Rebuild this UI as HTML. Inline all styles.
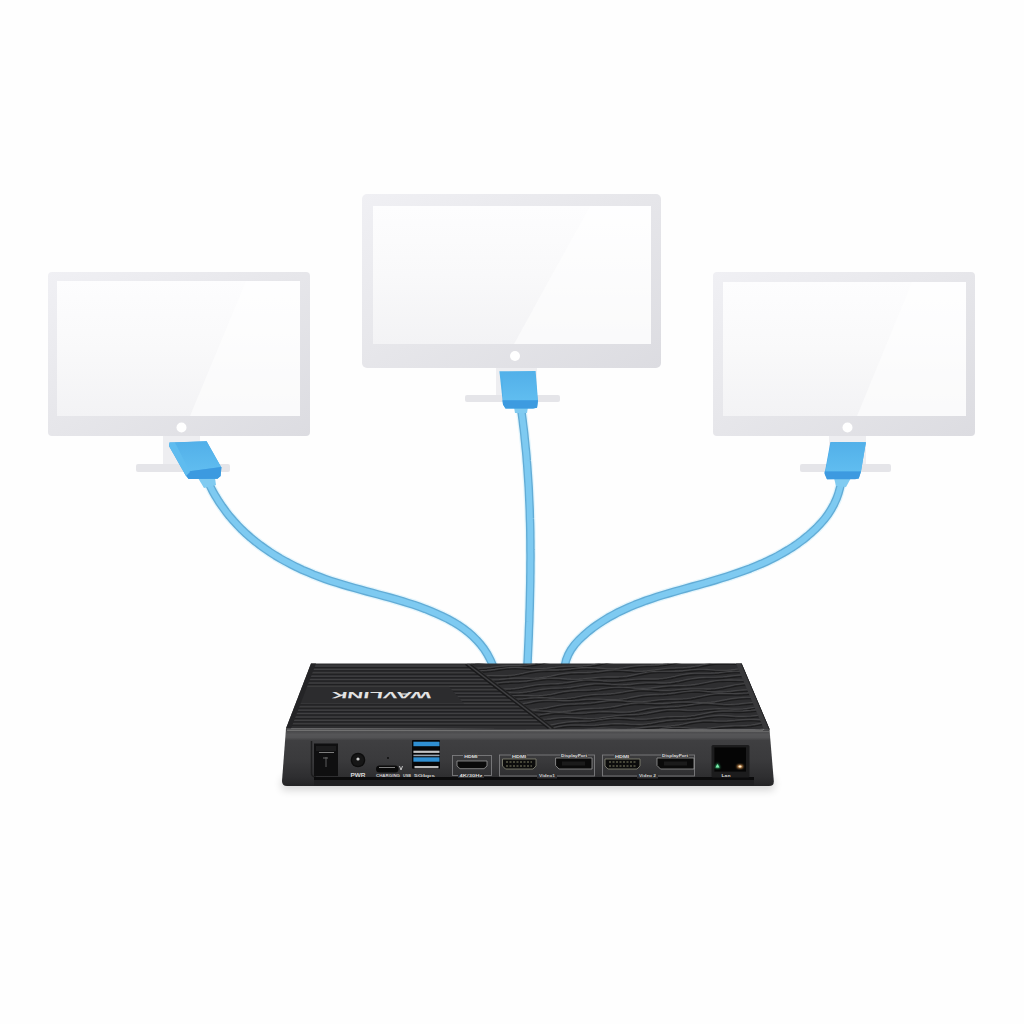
<!DOCTYPE html>
<html><head><meta charset="utf-8">
<style>
html,body{margin:0;padding:0;background:#fefefe;width:1024px;height:1024px;overflow:hidden;font-family:"Liberation Sans",sans-serif;}
svg{display:block;}
</style></head>
<body>
<svg width="1024" height="1024" viewBox="0 0 1024 1024">
<defs>
  <linearGradient id="scr" x1="0" y1="0" x2="0" y2="1">
    <stop offset="0" stop-color="#fdfdfe"/>
    <stop offset="0.5" stop-color="#f9f9fa"/>
    <stop offset="1" stop-color="#f3f3f5"/>
  </linearGradient>
  <linearGradient id="frm" x1="0" y1="0" x2="1" y2="1">
    <stop offset="0" stop-color="#f0f0f4"/>
    <stop offset="0.5" stop-color="#e6e6ea"/>
    <stop offset="1" stop-color="#dcdce1"/>
  </linearGradient>
  <linearGradient id="connBody" x1="0" y1="0" x2="0" y2="1">
    <stop offset="0" stop-color="#52b0e9"/>
    <stop offset="1" stop-color="#60bdf0"/>
  </linearGradient>
  <linearGradient id="faceGrad" x1="0" y1="728" x2="0" y2="786" gradientUnits="userSpaceOnUse">
    <stop offset="0" stop-color="#3a3a3c"/>
    <stop offset="0.052" stop-color="#48484a"/>
    <stop offset="0.112" stop-color="#555557"/>
    <stop offset="0.164" stop-color="#525254"/>
    <stop offset="0.216" stop-color="#3f3f41"/>
    <stop offset="0.55" stop-color="#3a3a3c"/>
    <stop offset="0.845" stop-color="#2e2e30"/>
    <stop offset="1" stop-color="#232325"/>
  </linearGradient>
  <filter id="blur4" x="-20%" y="-200%" width="140%" height="500%"><feGaussianBlur stdDeviation="4"/></filter>
  <radialGradient id="shadow" cx="0.5" cy="0.5" r="0.5">
    <stop offset="0" stop-color="#000" stop-opacity="0.10"/>
    <stop offset="1" stop-color="#000" stop-opacity="0"/>
  </radialGradient>
  <clipPath id="clipLeftTop"><polygon points="311,663.5 467,663.5 550,728.5 286,728.5"/></clipPath>
  <clipPath id="clipRightTop"><polygon points="467,663.5 741.5,663.5 769.5,729.5 550,728.5"/></clipPath>
  <filter id="glow" x="-30%" y="-30%" width="160%" height="160%">
    <feGaussianBlur stdDeviation="1.2"/>
  </filter>
</defs>

<!-- LEFT MONITOR -->
<g id="monL">
  <rect x="163" y="434" width="37" height="32" fill="#eeeef1"/>
  <rect x="136" y="464" width="94" height="8" rx="2" fill="#e5e5e9"/>
  <rect x="48" y="272" width="262" height="164" rx="4" fill="url(#frm)"/>
  <rect x="57" y="281" width="243" height="135" fill="url(#scr)"/>
  <polygon points="246,281 300,281 300,416 190,416" fill="#ffffff" opacity="0.55"/>
  <circle cx="181.5" cy="427.5" r="5" fill="#ffffff"/>
</g>
<!-- CENTER MONITOR -->
<g id="monC">
  <rect x="496" y="366" width="41" height="31" fill="#eeeef1"/>
  <rect x="465" y="395" width="95" height="7" rx="2" fill="#e5e5e9"/>
  <rect x="362" y="194" width="299" height="174" rx="5" fill="url(#frm)"/>
  <rect x="373" y="206" width="278" height="138" fill="url(#scr)"/>
  <polygon points="590,206 651,206 651,344 514,344" fill="#ffffff" opacity="0.55"/>
  <circle cx="515" cy="356" r="5" fill="#ffffff"/>
</g>
<!-- RIGHT MONITOR -->
<g id="monR">
  <rect x="829" y="434" width="37" height="32" fill="#eeeef1"/>
  <rect x="800" y="464" width="91" height="8" rx="2" fill="#e5e5e9"/>
  <rect x="713" y="272" width="262" height="164" rx="4" fill="url(#frm)"/>
  <rect x="723" y="282" width="243" height="134" fill="url(#scr)"/>
  <polygon points="912,282 966,282 966,416 857,416" fill="#ffffff" opacity="0.55"/>
  <circle cx="847.5" cy="427.5" r="5" fill="#ffffff"/>
</g>

<!-- CABLES -->
<g fill="none" stroke-linecap="butt" stroke-linejoin="round">
<path d="M204.6 473.4 L207.0 479.4 L209.7 485.2 L212.5 490.8 L215.6 496.3 L218.8 501.5 L222.3 506.6 L225.9 511.6 L229.6 516.3 L233.6 520.9 L237.7 525.4 L241.9 529.7 L246.3 533.8 L250.8 537.8 L255.5 541.6 L260.3 545.3 L265.2 548.8 L270.2 552.2 L275.3 555.5 L280.5 558.6 L285.9 561.6 L291.3 564.4 L296.7 567.2 L302.3 569.8 L307.9 572.2 L313.6 574.6 L319.3 576.8 L325.1 578.9 L330.9 580.9 L336.8 582.8 L342.7 584.6 L348.6 586.3 L354.5 588.0 L360.5 589.6 L366.4 591.3 L372.4 592.9 L378.3 594.5 L384.3 596.1 L390.2 597.7 L396.1 599.4 L402.0 601.1 L407.8 603.0 L413.7 604.8 L419.4 606.8 L425.2 608.9 L430.9 611.2 L436.5 613.6 L442.0 616.1 L447.5 618.8 L452.8 621.7 L458.0 624.8 L463.0 628.2 L467.7 631.8 L472.3 635.7 L476.5 639.9 L480.5 644.4 L484.2 649.2 L487.5 654.4 L490.4 659.9 L493.0 665.9" stroke="#e4f5fc" stroke-width="11"/>
<path d="M204.6 473.4 L207.0 479.4 L209.7 485.2 L212.5 490.8 L215.6 496.3 L218.8 501.5 L222.3 506.6 L225.9 511.6 L229.6 516.3 L233.6 520.9 L237.7 525.4 L241.9 529.7 L246.3 533.8 L250.8 537.8 L255.5 541.6 L260.3 545.3 L265.2 548.8 L270.2 552.2 L275.3 555.5 L280.5 558.6 L285.9 561.6 L291.3 564.4 L296.7 567.2 L302.3 569.8 L307.9 572.2 L313.6 574.6 L319.3 576.8 L325.1 578.9 L330.9 580.9 L336.8 582.8 L342.7 584.6 L348.6 586.3 L354.5 588.0 L360.5 589.6 L366.4 591.3 L372.4 592.9 L378.3 594.5 L384.3 596.1 L390.2 597.7 L396.1 599.4 L402.0 601.1 L407.8 603.0 L413.7 604.8 L419.4 606.8 L425.2 608.9 L430.9 611.2 L436.5 613.6 L442.0 616.1 L447.5 618.8 L452.8 621.7 L458.0 624.8 L463.0 628.2 L467.7 631.8 L472.3 635.7 L476.5 639.9 L480.5 644.4 L484.2 649.2 L487.5 654.4 L490.4 659.9 L493.0 665.9" stroke="#62acd6" stroke-width="8.5"/>
<path d="M204.6 473.4 L207.0 479.4 L209.7 485.2 L212.5 490.8 L215.6 496.3 L218.8 501.5 L222.3 506.6 L225.9 511.6 L229.6 516.3 L233.6 520.9 L237.7 525.4 L241.9 529.7 L246.3 533.8 L250.8 537.8 L255.5 541.6 L260.3 545.3 L265.2 548.8 L270.2 552.2 L275.3 555.5 L280.5 558.6 L285.9 561.6 L291.3 564.4 L296.7 567.2 L302.3 569.8 L307.9 572.2 L313.6 574.6 L319.3 576.8 L325.1 578.9 L330.9 580.9 L336.8 582.8 L342.7 584.6 L348.6 586.3 L354.5 588.0 L360.5 589.6 L366.4 591.3 L372.4 592.9 L378.3 594.5 L384.3 596.1 L390.2 597.7 L396.1 599.4 L402.0 601.1 L407.8 603.0 L413.7 604.8 L419.4 606.8 L425.2 608.9 L430.9 611.2 L436.5 613.6 L442.0 616.1 L447.5 618.8 L452.8 621.7 L458.0 624.8 L463.0 628.2 L467.7 631.8 L472.3 635.7 L476.5 639.9 L480.5 644.4 L484.2 649.2 L487.5 654.4 L490.4 659.9 L493.0 665.9" stroke="#7ecaf1" stroke-width="5.8"/>
<path d="M520.2 403.0 L520.9 407.5 L521.5 411.9 L522.1 416.3 L522.7 420.8 L523.2 425.2 L523.8 429.7 L524.3 434.1 L524.7 438.5 L525.2 443.0 L525.6 447.4 L526.1 451.9 L526.5 456.3 L526.8 460.8 L527.2 465.2 L527.5 469.7 L527.8 474.1 L528.1 478.6 L528.4 483.0 L528.7 487.5 L528.9 491.9 L529.1 496.4 L529.3 500.9 L529.5 505.3 L529.7 509.8 L529.8 514.2 L529.9 518.7 L530.1 523.1 L530.2 527.6 L530.3 532.1 L530.3 536.5 L530.4 541.0 L530.4 545.5 L530.4 549.9 L530.5 554.4 L530.5 558.8 L530.4 563.3 L530.4 567.8 L530.4 572.2 L530.3 576.7 L530.3 581.2 L530.2 585.6 L530.1 590.1 L530.0 594.6 L529.9 599.0 L529.8 603.5 L529.7 608.0 L529.5 612.4 L529.4 616.9 L529.3 621.4 L529.1 625.8 L528.9 630.3 L528.8 634.8 L528.6 639.2 L528.4 643.7 L528.2 648.1 L528.0 652.6 L527.8 657.1 L527.6 661.5 L527.3 666.0" stroke="#e4f5fc" stroke-width="11"/>
<path d="M520.2 403.0 L520.9 407.5 L521.5 411.9 L522.1 416.3 L522.7 420.8 L523.2 425.2 L523.8 429.7 L524.3 434.1 L524.7 438.5 L525.2 443.0 L525.6 447.4 L526.1 451.9 L526.5 456.3 L526.8 460.8 L527.2 465.2 L527.5 469.7 L527.8 474.1 L528.1 478.6 L528.4 483.0 L528.7 487.5 L528.9 491.9 L529.1 496.4 L529.3 500.9 L529.5 505.3 L529.7 509.8 L529.8 514.2 L529.9 518.7 L530.1 523.1 L530.2 527.6 L530.3 532.1 L530.3 536.5 L530.4 541.0 L530.4 545.5 L530.4 549.9 L530.5 554.4 L530.5 558.8 L530.4 563.3 L530.4 567.8 L530.4 572.2 L530.3 576.7 L530.3 581.2 L530.2 585.6 L530.1 590.1 L530.0 594.6 L529.9 599.0 L529.8 603.5 L529.7 608.0 L529.5 612.4 L529.4 616.9 L529.3 621.4 L529.1 625.8 L528.9 630.3 L528.8 634.8 L528.6 639.2 L528.4 643.7 L528.2 648.1 L528.0 652.6 L527.8 657.1 L527.6 661.5 L527.3 666.0" stroke="#62acd6" stroke-width="8.5"/>
<path d="M520.2 403.0 L520.9 407.5 L521.5 411.9 L522.1 416.3 L522.7 420.8 L523.2 425.2 L523.8 429.7 L524.3 434.1 L524.7 438.5 L525.2 443.0 L525.6 447.4 L526.1 451.9 L526.5 456.3 L526.8 460.8 L527.2 465.2 L527.5 469.7 L527.8 474.1 L528.1 478.6 L528.4 483.0 L528.7 487.5 L528.9 491.9 L529.1 496.4 L529.3 500.9 L529.5 505.3 L529.7 509.8 L529.8 514.2 L529.9 518.7 L530.1 523.1 L530.2 527.6 L530.3 532.1 L530.3 536.5 L530.4 541.0 L530.4 545.5 L530.4 549.9 L530.5 554.4 L530.5 558.8 L530.4 563.3 L530.4 567.8 L530.4 572.2 L530.3 576.7 L530.3 581.2 L530.2 585.6 L530.1 590.1 L530.0 594.6 L529.9 599.0 L529.8 603.5 L529.7 608.0 L529.5 612.4 L529.4 616.9 L529.3 621.4 L529.1 625.8 L528.9 630.3 L528.8 634.8 L528.6 639.2 L528.4 643.7 L528.2 648.1 L528.0 652.6 L527.8 657.1 L527.6 661.5 L527.3 666.0" stroke="#7ecaf1" stroke-width="5.8"/>
<path d="M842.7 474.8 L841.6 480.9 L840.2 486.9 L838.6 492.8 L836.6 498.6 L834.1 504.1 L831.2 509.4 L828.0 514.4 L824.4 519.2 L820.4 523.8 L816.3 528.1 L811.9 532.2 L807.4 536.1 L802.8 539.9 L798.0 543.4 L793.1 546.8 L788.0 550.0 L782.9 553.0 L777.7 555.9 L772.3 558.7 L766.9 561.3 L761.4 563.8 L755.8 566.1 L750.2 568.4 L744.5 570.5 L738.8 572.6 L733.0 574.6 L727.2 576.5 L721.3 578.3 L715.5 580.1 L709.6 581.8 L703.8 583.5 L697.9 585.1 L692.0 586.7 L686.2 588.3 L680.3 590.0 L674.5 591.6 L668.7 593.3 L663.0 595.0 L657.2 596.8 L651.6 598.7 L645.9 600.6 L640.3 602.7 L634.8 604.8 L629.3 607.1 L623.9 609.6 L618.5 612.1 L613.3 614.9 L608.0 617.8 L602.9 621.0 L597.9 624.3 L592.9 627.8 L588.1 631.6 L583.4 635.7 L578.9 640.0 L574.8 644.5 L571.2 649.4 L568.3 654.6 L566.1 660.1 L564.8 666.0" stroke="#e4f5fc" stroke-width="11"/>
<path d="M842.7 474.8 L841.6 480.9 L840.2 486.9 L838.6 492.8 L836.6 498.6 L834.1 504.1 L831.2 509.4 L828.0 514.4 L824.4 519.2 L820.4 523.8 L816.3 528.1 L811.9 532.2 L807.4 536.1 L802.8 539.9 L798.0 543.4 L793.1 546.8 L788.0 550.0 L782.9 553.0 L777.7 555.9 L772.3 558.7 L766.9 561.3 L761.4 563.8 L755.8 566.1 L750.2 568.4 L744.5 570.5 L738.8 572.6 L733.0 574.6 L727.2 576.5 L721.3 578.3 L715.5 580.1 L709.6 581.8 L703.8 583.5 L697.9 585.1 L692.0 586.7 L686.2 588.3 L680.3 590.0 L674.5 591.6 L668.7 593.3 L663.0 595.0 L657.2 596.8 L651.6 598.7 L645.9 600.6 L640.3 602.7 L634.8 604.8 L629.3 607.1 L623.9 609.6 L618.5 612.1 L613.3 614.9 L608.0 617.8 L602.9 621.0 L597.9 624.3 L592.9 627.8 L588.1 631.6 L583.4 635.7 L578.9 640.0 L574.8 644.5 L571.2 649.4 L568.3 654.6 L566.1 660.1 L564.8 666.0" stroke="#62acd6" stroke-width="8.5"/>
<path d="M842.7 474.8 L841.6 480.9 L840.2 486.9 L838.6 492.8 L836.6 498.6 L834.1 504.1 L831.2 509.4 L828.0 514.4 L824.4 519.2 L820.4 523.8 L816.3 528.1 L811.9 532.2 L807.4 536.1 L802.8 539.9 L798.0 543.4 L793.1 546.8 L788.0 550.0 L782.9 553.0 L777.7 555.9 L772.3 558.7 L766.9 561.3 L761.4 563.8 L755.8 566.1 L750.2 568.4 L744.5 570.5 L738.8 572.6 L733.0 574.6 L727.2 576.5 L721.3 578.3 L715.5 580.1 L709.6 581.8 L703.8 583.5 L697.9 585.1 L692.0 586.7 L686.2 588.3 L680.3 590.0 L674.5 591.6 L668.7 593.3 L663.0 595.0 L657.2 596.8 L651.6 598.7 L645.9 600.6 L640.3 602.7 L634.8 604.8 L629.3 607.1 L623.9 609.6 L618.5 612.1 L613.3 614.9 L608.0 617.8 L602.9 621.0 L597.9 624.3 L592.9 627.8 L588.1 631.6 L583.4 635.7 L578.9 640.0 L574.8 644.5 L571.2 649.4 L568.3 654.6 L566.1 660.1 L564.8 666.0" stroke="#7ecaf1" stroke-width="5.8"/>

</g>

<!-- STRAIN RELIEF -->
<g>
  <polygon points="198,478 215,478 216,485 204,488" fill="#80cbf1"/>
  <polygon points="514,407 528,407 527,413 515,413" fill="#80cbf1"/>
  <polygon points="834,478 851,478 846,487 836,486" fill="#80cbf1"/>
</g>
<!-- CONNECTORS -->
<g id="connL">
  <polygon points="169.5,442.5 206.6,441.3 221.4,467.5 220.6,476 217.5,478.8 188.6,479 186,476 169,446" fill="#48aae8"/>
  <polygon points="175,442.5 206.6,441.3 221,467 184,472" fill="url(#connBody)"/>
  <polygon points="184,472 221.4,467 220.6,476 217.5,478.8 188.6,479" fill="#3c9ae0"/>
  <polygon points="169.5,442.5 175,442.5 190,472 186,476 169,446" fill="#5fbcef"/>
</g>
<g id="connC">
  <polygon points="499.4,371.3 535.6,371 538,401 537,407.8 533,408.5 505.5,408.5 503,404.4" fill="#52b2ea"/>
  <polygon points="503,372 535,372 537.5,400.5 503,400.5" fill="url(#connBody)"/>
  <polygon points="502.5,400.3 538,400.3 537,407.8 533,408.5 505.5,408.5 503,404.4" fill="#3d9be0"/>
</g>
<g id="connR">
  <polygon points="830.4,441.9 865.9,442.3 860.8,472.3 858.7,478.5 827,479.2 824.6,473 826,466" fill="#4aaae8"/>
  <polygon points="831,442 865.9,442.3 861,471.6 825.5,471.6" fill="url(#connBody)"/>
  <polygon points="824.6,471.6 861,471.6 858.7,478.5 855,479.2 827,479.2 824.6,474" fill="#3d9ae0"/>
</g>

<!-- BOX -->
<g id="box">
  <rect x="282" y="778" width="492" height="12" fill="#000" opacity="0.16" filter="url(#blur4)"/>
  <!-- top surface -->
  <polygon points="311,663.5 741.5,663.5 769.5,729.5 286,728.5" fill="#2e2e30"/>
  <g clip-path="url(#clipLeftTop)">
  <g clip-path="url(#clipRightTop)"></g>
  </g>
  <g>
<g clip-path="url(#clipLeftTop)"><line x1="312.8" y1="666.0" x2="469.6" y2="666.0" stroke="#434345" stroke-width="1"/>
<line x1="312.8" y1="667.5" x2="469.6" y2="667.5" stroke="#1f1f21" stroke-width="1"/>
<line x1="311.5" y1="669.4" x2="474.0" y2="669.4" stroke="#434345" stroke-width="1"/>
<line x1="311.5" y1="670.9" x2="474.0" y2="670.9" stroke="#1f1f21" stroke-width="1"/>
<line x1="310.2" y1="672.8" x2="478.4" y2="672.8" stroke="#434345" stroke-width="1"/>
<line x1="310.2" y1="674.3" x2="478.4" y2="674.3" stroke="#1f1f21" stroke-width="1"/>
<line x1="308.9" y1="676.2" x2="482.8" y2="676.2" stroke="#434345" stroke-width="1"/>
<line x1="308.9" y1="677.7" x2="482.8" y2="677.7" stroke="#1f1f21" stroke-width="1"/>
<line x1="307.6" y1="679.6" x2="487.2" y2="679.6" stroke="#434345" stroke-width="1"/>
<line x1="307.6" y1="681.1" x2="487.2" y2="681.1" stroke="#1f1f21" stroke-width="1"/>
<line x1="306.3" y1="683.0" x2="491.6" y2="683.0" stroke="#434345" stroke-width="1"/>
<line x1="306.3" y1="684.5" x2="491.6" y2="684.5" stroke="#1f1f21" stroke-width="1"/>
<line x1="305.0" y1="686.4" x2="496.0" y2="686.4" stroke="#434345" stroke-width="1"/>
<line x1="305.0" y1="687.9" x2="496.0" y2="687.9" stroke="#1f1f21" stroke-width="1"/>
<line x1="303.7" y1="689.8" x2="500.5" y2="689.8" stroke="#434345" stroke-width="1"/>
<line x1="303.7" y1="691.3" x2="500.5" y2="691.3" stroke="#1f1f21" stroke-width="1"/>
<line x1="302.4" y1="693.2" x2="504.9" y2="693.2" stroke="#434345" stroke-width="1"/>
<line x1="302.4" y1="694.7" x2="504.9" y2="694.7" stroke="#1f1f21" stroke-width="1"/>
<line x1="301.1" y1="696.6" x2="509.3" y2="696.6" stroke="#434345" stroke-width="1"/>
<line x1="301.1" y1="698.1" x2="509.3" y2="698.1" stroke="#1f1f21" stroke-width="1"/>
<line x1="299.8" y1="700.0" x2="513.7" y2="700.0" stroke="#434345" stroke-width="1"/>
<line x1="299.8" y1="701.5" x2="513.7" y2="701.5" stroke="#1f1f21" stroke-width="1"/>
<line x1="298.5" y1="703.4" x2="518.1" y2="703.4" stroke="#434345" stroke-width="1"/>
<line x1="298.5" y1="704.9" x2="518.1" y2="704.9" stroke="#1f1f21" stroke-width="1"/>
<line x1="297.2" y1="706.8" x2="522.5" y2="706.8" stroke="#434345" stroke-width="1"/>
<line x1="297.2" y1="708.3" x2="522.5" y2="708.3" stroke="#1f1f21" stroke-width="1"/>
<line x1="295.8" y1="710.2" x2="526.9" y2="710.2" stroke="#434345" stroke-width="1"/>
<line x1="295.8" y1="711.7" x2="526.9" y2="711.7" stroke="#1f1f21" stroke-width="1"/>
<line x1="294.5" y1="713.6" x2="531.3" y2="713.6" stroke="#434345" stroke-width="1"/>
<line x1="294.5" y1="715.1" x2="531.3" y2="715.1" stroke="#1f1f21" stroke-width="1"/>
<line x1="293.2" y1="717.0" x2="535.7" y2="717.0" stroke="#434345" stroke-width="1"/>
<line x1="293.2" y1="718.5" x2="535.7" y2="718.5" stroke="#1f1f21" stroke-width="1"/>
<line x1="291.9" y1="720.4" x2="540.1" y2="720.4" stroke="#434345" stroke-width="1"/>
<line x1="291.9" y1="721.9" x2="540.1" y2="721.9" stroke="#1f1f21" stroke-width="1"/>
<line x1="290.6" y1="723.8" x2="544.6" y2="723.8" stroke="#434345" stroke-width="1"/>
<line x1="290.6" y1="725.3" x2="544.6" y2="725.3" stroke="#1f1f21" stroke-width="1"/></g><g clip-path="url(#clipRightTop)"><path d="M455.0 663.2 L459.0 662.9 L463.0 662.8 L467.0 662.7 L471.0 662.5 L475.0 662.2 L479.0 661.8 L483.0 661.3 L487.0 660.8 L491.0 660.2 L495.0 659.8 L499.0 659.5 L503.0 659.4 L507.0 659.5 L511.0 659.7 L515.0 660.0 L519.0 660.3 L523.0 660.5 L527.0 660.6 L531.0 660.4 L535.0 660.1 L539.0 659.6 L543.0 659.1 L547.0 658.7 L551.0 658.4 L555.0 658.1 L559.0 658.0 L563.0 658.0 L567.0 657.9 L571.0 657.7 L575.0 657.4 L579.0 656.9 L583.0 656.2 L587.0 655.4 L591.0 654.6 L595.0 653.8 L599.0 653.1 L603.0 652.7 L607.0 652.4 L611.0 652.3 L615.0 652.4 L619.0 652.4 L623.0 652.5 L627.0 652.4 L631.0 652.2 L635.0 651.8 L639.0 651.4 L643.0 651.1 L647.0 650.8 L651.0 650.6 L655.0 650.7 L659.0 650.9 L663.0 651.1 L667.0 651.4 L671.0 651.6 L675.0 651.6 L679.0 651.4 L683.0 651.0 L687.0 650.4 L691.0 649.7 L695.0 649.0 L699.0 648.4 L703.0 647.9 L707.0 647.6 L711.0 647.3 L715.0 647.2 L719.0 647.0 L723.0 646.7 L727.0 646.4 L731.0 645.8 L735.0 645.2 L739.0 644.5 L743.0 643.8 L747.0 643.2 L751.0 642.8 L755.0 642.6 L759.0 642.6 L763.0 642.8 L767.0 643.1 L771.0 643.3 L775.0 643.5 L779.0 643.5" stroke="#444446" stroke-width="1.1" fill="none"/>
<path d="M455.0 664.8 L459.0 664.5 L463.0 664.4 L467.0 664.3 L471.0 664.1 L475.0 663.8 L479.0 663.4 L483.0 662.9 L487.0 662.4 L491.0 661.8 L495.0 661.4 L499.0 661.1 L503.0 661.0 L507.0 661.1 L511.0 661.3 L515.0 661.6 L519.0 661.9 L523.0 662.1 L527.0 662.2 L531.0 662.0 L535.0 661.7 L539.0 661.2 L543.0 660.7 L547.0 660.3 L551.0 660.0 L555.0 659.7 L559.0 659.6 L563.0 659.6 L567.0 659.5 L571.0 659.3 L575.0 659.0 L579.0 658.5 L583.0 657.8 L587.0 657.0 L591.0 656.2 L595.0 655.4 L599.0 654.7 L603.0 654.3 L607.0 654.0 L611.0 653.9 L615.0 654.0 L619.0 654.0 L623.0 654.1 L627.0 654.0 L631.0 653.8 L635.0 653.4 L639.0 653.0 L643.0 652.7 L647.0 652.4 L651.0 652.2 L655.0 652.3 L659.0 652.5 L663.0 652.7 L667.0 653.0 L671.0 653.2 L675.0 653.2 L679.0 653.0 L683.0 652.6 L687.0 652.0 L691.0 651.3 L695.0 650.6 L699.0 650.0 L703.0 649.5 L707.0 649.2 L711.0 648.9 L715.0 648.8 L719.0 648.6 L723.0 648.3 L727.0 648.0 L731.0 647.4 L735.0 646.8 L739.0 646.1 L743.0 645.4 L747.0 644.8 L751.0 644.4 L755.0 644.2 L759.0 644.2 L763.0 644.4 L767.0 644.7 L771.0 644.9 L775.0 645.1 L779.0 645.1" stroke="#1a1a1b" stroke-width="1.1" fill="none"/>
<path d="M455.0 666.9 L459.0 666.9 L463.0 667.2 L467.0 667.5 L471.0 667.8 L475.0 668.0 L479.0 668.1 L483.0 667.9 L487.0 667.6 L491.0 667.2 L495.0 666.7 L499.0 666.2 L503.0 665.9 L507.0 665.6 L511.0 665.5 L515.0 665.5 L519.0 665.4 L523.0 665.2 L527.0 664.9 L531.0 664.4 L535.0 663.8 L539.0 663.0 L543.0 662.1 L547.0 661.3 L551.0 660.7 L555.0 660.2 L559.0 659.9 L563.0 659.8 L567.0 659.8 L571.0 659.9 L575.0 660.0 L579.0 659.9 L583.0 659.7 L587.0 659.4 L591.0 659.0 L595.0 658.6 L599.0 658.3 L603.0 658.2 L607.0 658.2 L611.0 658.3 L615.0 658.6 L619.0 658.8 L623.0 659.0 L627.0 659.1 L631.0 658.9 L635.0 658.6 L639.0 658.0 L643.0 657.3 L647.0 656.6 L651.0 656.0 L655.0 655.4 L659.0 655.1 L663.0 654.8 L667.0 654.6 L671.0 654.5 L675.0 654.2 L679.0 653.9 L683.0 653.4 L687.0 652.7 L691.0 652.0 L695.0 651.3 L699.0 650.7 L703.0 650.3 L707.0 650.1 L711.0 650.1 L715.0 650.3 L719.0 650.5 L723.0 650.8 L727.0 650.9 L731.0 651.0 L735.0 650.8 L739.0 650.6 L743.0 650.2 L747.0 649.8 L751.0 649.5 L755.0 649.3 L759.0 649.2 L763.0 649.3 L767.0 649.3 L771.0 649.4 L775.0 649.3 L779.0 649.1" stroke="#444446" stroke-width="1.1" fill="none"/>
<path d="M455.0 668.5 L459.0 668.5 L463.0 668.8 L467.0 669.1 L471.0 669.4 L475.0 669.6 L479.0 669.7 L483.0 669.5 L487.0 669.2 L491.0 668.8 L495.0 668.3 L499.0 667.8 L503.0 667.5 L507.0 667.2 L511.0 667.1 L515.0 667.1 L519.0 667.0 L523.0 666.8 L527.0 666.5 L531.0 666.0 L535.0 665.4 L539.0 664.6 L543.0 663.7 L547.0 662.9 L551.0 662.3 L555.0 661.8 L559.0 661.5 L563.0 661.4 L567.0 661.4 L571.0 661.5 L575.0 661.6 L579.0 661.5 L583.0 661.3 L587.0 661.0 L591.0 660.6 L595.0 660.2 L599.0 659.9 L603.0 659.8 L607.0 659.8 L611.0 659.9 L615.0 660.2 L619.0 660.4 L623.0 660.6 L627.0 660.7 L631.0 660.5 L635.0 660.2 L639.0 659.6 L643.0 658.9 L647.0 658.2 L651.0 657.6 L655.0 657.0 L659.0 656.7 L663.0 656.4 L667.0 656.2 L671.0 656.1 L675.0 655.8 L679.0 655.5 L683.0 655.0 L687.0 654.3 L691.0 653.6 L695.0 652.9 L699.0 652.3 L703.0 651.9 L707.0 651.7 L711.0 651.7 L715.0 651.9 L719.0 652.1 L723.0 652.4 L727.0 652.5 L731.0 652.6 L735.0 652.4 L739.0 652.2 L743.0 651.8 L747.0 651.4 L751.0 651.1 L755.0 650.9 L759.0 650.8 L763.0 650.9 L767.0 650.9 L771.0 651.0 L775.0 650.9 L779.0 650.7" stroke="#1a1a1b" stroke-width="1.1" fill="none"/>
<path d="M455.0 673.0 L459.0 672.3 L463.0 671.7 L467.0 671.3 L471.0 671.0 L475.0 670.8 L479.0 670.7 L483.0 670.5 L487.0 670.3 L491.0 669.9 L495.0 669.4 L499.0 668.8 L503.0 668.2 L507.0 667.7 L511.0 667.4 L515.0 667.3 L519.0 667.4 L523.0 667.7 L527.0 668.0 L531.0 668.3 L535.0 668.5 L539.0 668.5 L543.0 668.4 L547.0 668.1 L551.0 667.6 L555.0 667.2 L559.0 666.7 L563.0 666.4 L567.0 666.2 L571.0 666.1 L575.0 666.0 L579.0 666.0 L583.0 665.8 L587.0 665.5 L591.0 665.0 L595.0 664.3 L599.0 663.5 L603.0 662.6 L607.0 661.8 L611.0 661.2 L615.0 660.7 L619.0 660.4 L623.0 660.4 L627.0 660.4 L631.0 660.4 L635.0 660.5 L639.0 660.4 L643.0 660.1 L647.0 659.8 L651.0 659.4 L655.0 659.0 L659.0 658.7 L663.0 658.6 L667.0 658.6 L671.0 658.8 L675.0 659.1 L679.0 659.4 L683.0 659.5 L687.0 659.6 L691.0 659.4 L695.0 659.0 L699.0 658.5 L703.0 657.8 L707.0 657.1 L711.0 656.5 L715.0 656.0 L719.0 655.6 L723.0 655.4 L727.0 655.2 L731.0 655.1 L735.0 654.8 L739.0 654.4 L743.0 653.9 L747.0 653.2 L751.0 652.5 L755.0 651.8 L759.0 651.2 L763.0 650.8 L767.0 650.6 L771.0 650.6 L775.0 650.8 L779.0 651.0" stroke="#444446" stroke-width="1.1" fill="none"/>
<path d="M455.0 674.6 L459.0 673.9 L463.0 673.3 L467.0 672.9 L471.0 672.6 L475.0 672.4 L479.0 672.3 L483.0 672.1 L487.0 671.9 L491.0 671.5 L495.0 671.0 L499.0 670.4 L503.0 669.8 L507.0 669.3 L511.0 669.0 L515.0 668.9 L519.0 669.0 L523.0 669.3 L527.0 669.6 L531.0 669.9 L535.0 670.1 L539.0 670.1 L543.0 670.0 L547.0 669.7 L551.0 669.2 L555.0 668.8 L559.0 668.3 L563.0 668.0 L567.0 667.8 L571.0 667.7 L575.0 667.6 L579.0 667.6 L583.0 667.4 L587.0 667.1 L591.0 666.6 L595.0 665.9 L599.0 665.1 L603.0 664.2 L607.0 663.4 L611.0 662.8 L615.0 662.3 L619.0 662.0 L623.0 662.0 L627.0 662.0 L631.0 662.0 L635.0 662.1 L639.0 662.0 L643.0 661.7 L647.0 661.4 L651.0 661.0 L655.0 660.6 L659.0 660.3 L663.0 660.2 L667.0 660.2 L671.0 660.4 L675.0 660.7 L679.0 661.0 L683.0 661.1 L687.0 661.2 L691.0 661.0 L695.0 660.6 L699.0 660.1 L703.0 659.4 L707.0 658.7 L711.0 658.1 L715.0 657.6 L719.0 657.2 L723.0 657.0 L727.0 656.8 L731.0 656.7 L735.0 656.4 L739.0 656.0 L743.0 655.5 L747.0 654.8 L751.0 654.1 L755.0 653.4 L759.0 652.8 L763.0 652.4 L767.0 652.2 L771.0 652.2 L775.0 652.4 L779.0 652.6" stroke="#1a1a1b" stroke-width="1.1" fill="none"/>
<path d="M455.0 677.3 L459.0 677.4 L463.0 677.4 L467.0 677.3 L471.0 677.0 L475.0 676.6 L479.0 676.2 L483.0 675.8 L487.0 675.6 L491.0 675.5 L495.0 675.6 L499.0 675.6 L503.0 675.6 L507.0 675.5 L511.0 675.2 L515.0 674.7 L519.0 674.0 L523.0 673.2 L527.0 672.3 L531.0 671.5 L535.0 670.9 L539.0 670.4 L543.0 670.1 L547.0 670.0 L551.0 669.9 L555.0 669.9 L559.0 669.8 L563.0 669.6 L567.0 669.2 L571.0 668.8 L575.0 668.3 L579.0 667.9 L583.0 667.6 L587.0 667.5 L591.0 667.6 L595.0 667.8 L599.0 668.1 L603.0 668.4 L607.0 668.7 L611.0 668.7 L615.0 668.6 L619.0 668.2 L623.0 667.7 L627.0 667.1 L631.0 666.5 L635.0 666.0 L639.0 665.6 L643.0 665.4 L647.0 665.2 L651.0 665.1 L655.0 664.9 L659.0 664.6 L663.0 664.2 L667.0 663.6 L671.0 662.8 L675.0 662.0 L679.0 661.3 L683.0 660.6 L687.0 660.2 L691.0 659.9 L695.0 659.9 L699.0 660.0 L703.0 660.2 L707.0 660.3 L711.0 660.4 L715.0 660.3 L719.0 660.1 L723.0 659.8 L727.0 659.5 L731.0 659.1 L735.0 658.9 L739.0 658.8 L743.0 658.9 L747.0 659.0 L751.0 659.2 L755.0 659.4 L759.0 659.4 L763.0 659.2 L767.0 658.7 L771.0 658.1 L775.0 657.4 L779.0 656.6" stroke="#444446" stroke-width="1.1" fill="none"/>
<path d="M455.0 678.9 L459.0 679.0 L463.0 679.0 L467.0 678.9 L471.0 678.6 L475.0 678.2 L479.0 677.8 L483.0 677.4 L487.0 677.2 L491.0 677.1 L495.0 677.2 L499.0 677.2 L503.0 677.2 L507.0 677.1 L511.0 676.8 L515.0 676.3 L519.0 675.6 L523.0 674.8 L527.0 673.9 L531.0 673.1 L535.0 672.5 L539.0 672.0 L543.0 671.7 L547.0 671.6 L551.0 671.5 L555.0 671.5 L559.0 671.4 L563.0 671.2 L567.0 670.8 L571.0 670.4 L575.0 669.9 L579.0 669.5 L583.0 669.2 L587.0 669.1 L591.0 669.2 L595.0 669.4 L599.0 669.7 L603.0 670.0 L607.0 670.3 L611.0 670.3 L615.0 670.2 L619.0 669.8 L623.0 669.3 L627.0 668.7 L631.0 668.1 L635.0 667.6 L639.0 667.2 L643.0 667.0 L647.0 666.8 L651.0 666.7 L655.0 666.5 L659.0 666.2 L663.0 665.8 L667.0 665.2 L671.0 664.4 L675.0 663.6 L679.0 662.9 L683.0 662.2 L687.0 661.8 L691.0 661.5 L695.0 661.5 L699.0 661.6 L703.0 661.8 L707.0 661.9 L711.0 662.0 L715.0 661.9 L719.0 661.7 L723.0 661.4 L727.0 661.1 L731.0 660.7 L735.0 660.5 L739.0 660.4 L743.0 660.5 L747.0 660.6 L751.0 660.8 L755.0 661.0 L759.0 661.0 L763.0 660.8 L767.0 660.3 L771.0 659.7 L775.0 659.0 L779.0 658.2" stroke="#1a1a1b" stroke-width="1.1" fill="none"/>
<path d="M455.0 680.1 L459.0 679.5 L463.0 679.1 L467.0 678.9 L471.0 678.9 L475.0 679.1 L479.0 679.4 L483.0 679.7 L487.0 679.8 L491.0 679.9 L495.0 679.7 L499.0 679.5 L503.0 679.1 L507.0 678.7 L511.0 678.4 L515.0 678.1 L519.0 678.1 L523.0 678.1 L527.0 678.1 L531.0 678.2 L535.0 678.1 L539.0 677.9 L543.0 677.4 L547.0 676.8 L551.0 676.0 L555.0 675.1 L559.0 674.3 L563.0 673.6 L567.0 673.1 L571.0 672.8 L575.0 672.6 L579.0 672.5 L583.0 672.5 L587.0 672.4 L591.0 672.2 L595.0 671.8 L599.0 671.4 L603.0 670.9 L607.0 670.4 L611.0 670.1 L615.0 669.9 L619.0 670.0 L623.0 670.2 L627.0 670.5 L631.0 670.8 L635.0 671.1 L639.0 671.2 L643.0 671.1 L647.0 670.8 L651.0 670.3 L655.0 669.8 L659.0 669.2 L663.0 668.7 L667.0 668.3 L671.0 668.0 L675.0 667.9 L679.0 667.7 L683.0 667.6 L687.0 667.3 L691.0 666.9 L695.0 666.3 L699.0 665.6 L703.0 664.8 L707.0 664.0 L711.0 663.3 L715.0 662.8 L719.0 662.5 L723.0 662.4 L727.0 662.5 L731.0 662.6 L735.0 662.8 L739.0 662.9 L743.0 662.8 L747.0 662.6 L751.0 662.3 L755.0 661.9 L759.0 661.6 L763.0 661.4 L767.0 661.3 L771.0 661.3 L775.0 661.5 L779.0 661.7" stroke="#444446" stroke-width="1.1" fill="none"/>
<path d="M455.0 681.7 L459.0 681.1 L463.0 680.7 L467.0 680.5 L471.0 680.5 L475.0 680.7 L479.0 681.0 L483.0 681.3 L487.0 681.4 L491.0 681.5 L495.0 681.3 L499.0 681.1 L503.0 680.7 L507.0 680.3 L511.0 680.0 L515.0 679.7 L519.0 679.7 L523.0 679.7 L527.0 679.7 L531.0 679.8 L535.0 679.7 L539.0 679.5 L543.0 679.0 L547.0 678.4 L551.0 677.6 L555.0 676.7 L559.0 675.9 L563.0 675.2 L567.0 674.7 L571.0 674.4 L575.0 674.2 L579.0 674.1 L583.0 674.1 L587.0 674.0 L591.0 673.8 L595.0 673.4 L599.0 673.0 L603.0 672.5 L607.0 672.0 L611.0 671.7 L615.0 671.5 L619.0 671.6 L623.0 671.8 L627.0 672.1 L631.0 672.4 L635.0 672.7 L639.0 672.8 L643.0 672.7 L647.0 672.4 L651.0 671.9 L655.0 671.4 L659.0 670.8 L663.0 670.3 L667.0 669.9 L671.0 669.6 L675.0 669.5 L679.0 669.3 L683.0 669.2 L687.0 668.9 L691.0 668.5 L695.0 667.9 L699.0 667.2 L703.0 666.4 L707.0 665.6 L711.0 664.9 L715.0 664.4 L719.0 664.1 L723.0 664.0 L727.0 664.1 L731.0 664.2 L735.0 664.4 L739.0 664.5 L743.0 664.4 L747.0 664.2 L751.0 663.9 L755.0 663.5 L759.0 663.2 L763.0 663.0 L767.0 662.9 L771.0 662.9 L775.0 663.1 L779.0 663.3" stroke="#1a1a1b" stroke-width="1.1" fill="none"/>
<path d="M455.0 686.4 L459.0 686.5 L463.0 686.7 L467.0 686.9 L471.0 686.9 L475.0 686.7 L479.0 686.3 L483.0 685.6 L487.0 684.9 L491.0 684.1 L495.0 683.4 L499.0 682.8 L503.0 682.3 L507.0 682.0 L511.0 681.8 L515.0 681.7 L519.0 681.5 L523.0 681.2 L527.0 680.9 L531.0 680.3 L535.0 679.7 L539.0 679.1 L543.0 678.6 L547.0 678.2 L551.0 678.0 L555.0 678.1 L559.0 678.3 L563.0 678.6 L567.0 678.9 L571.0 679.1 L575.0 679.2 L579.0 679.1 L583.0 678.8 L587.0 678.4 L591.0 678.0 L595.0 677.6 L599.0 677.2 L603.0 677.0 L607.0 676.9 L611.0 676.9 L615.0 676.9 L619.0 676.8 L623.0 676.5 L627.0 676.1 L631.0 675.4 L635.0 674.6 L639.0 673.8 L643.0 673.0 L647.0 672.3 L651.0 671.7 L655.0 671.4 L659.0 671.2 L663.0 671.2 L667.0 671.2 L671.0 671.2 L675.0 671.1 L679.0 670.9 L683.0 670.6 L687.0 670.2 L691.0 669.8 L695.0 669.5 L699.0 669.3 L703.0 669.3 L707.0 669.4 L711.0 669.7 L715.0 670.0 L719.0 670.2 L723.0 670.3 L727.0 670.2 L731.0 669.9 L735.0 669.4 L739.0 668.8 L743.0 668.1 L747.0 667.5 L751.0 667.0 L755.0 666.6 L759.0 666.4 L763.0 666.2 L767.0 666.1 L771.0 665.8 L775.0 665.5 L779.0 665.0" stroke="#444446" stroke-width="1.1" fill="none"/>
<path d="M455.0 688.0 L459.0 688.1 L463.0 688.3 L467.0 688.5 L471.0 688.5 L475.0 688.3 L479.0 687.9 L483.0 687.2 L487.0 686.5 L491.0 685.7 L495.0 685.0 L499.0 684.4 L503.0 683.9 L507.0 683.6 L511.0 683.4 L515.0 683.3 L519.0 683.1 L523.0 682.8 L527.0 682.5 L531.0 681.9 L535.0 681.3 L539.0 680.7 L543.0 680.2 L547.0 679.8 L551.0 679.6 L555.0 679.7 L559.0 679.9 L563.0 680.2 L567.0 680.5 L571.0 680.7 L575.0 680.8 L579.0 680.7 L583.0 680.4 L587.0 680.0 L591.0 679.6 L595.0 679.2 L599.0 678.8 L603.0 678.6 L607.0 678.5 L611.0 678.5 L615.0 678.5 L619.0 678.4 L623.0 678.1 L627.0 677.7 L631.0 677.0 L635.0 676.2 L639.0 675.4 L643.0 674.6 L647.0 673.9 L651.0 673.3 L655.0 673.0 L659.0 672.8 L663.0 672.8 L667.0 672.8 L671.0 672.8 L675.0 672.7 L679.0 672.5 L683.0 672.2 L687.0 671.8 L691.0 671.4 L695.0 671.1 L699.0 670.9 L703.0 670.9 L707.0 671.0 L711.0 671.3 L715.0 671.6 L719.0 671.8 L723.0 671.9 L727.0 671.8 L731.0 671.5 L735.0 671.0 L739.0 670.4 L743.0 669.7 L747.0 669.1 L751.0 668.6 L755.0 668.2 L759.0 668.0 L763.0 667.8 L767.0 667.7 L771.0 667.4 L775.0 667.1 L779.0 666.6" stroke="#1a1a1b" stroke-width="1.1" fill="none"/>
<path d="M455.0 689.7 L459.0 689.8 L463.0 689.7 L467.0 689.5 L471.0 689.2 L475.0 688.9 L479.0 688.5 L483.0 688.3 L487.0 688.2 L491.0 688.2 L495.0 688.4 L499.0 688.6 L503.0 688.8 L507.0 688.9 L511.0 688.8 L515.0 688.4 L519.0 687.9 L523.0 687.2 L527.0 686.4 L531.0 685.7 L535.0 685.0 L539.0 684.5 L543.0 684.2 L547.0 684.0 L551.0 683.8 L555.0 683.7 L559.0 683.4 L563.0 683.0 L567.0 682.5 L571.0 681.9 L575.0 681.3 L579.0 680.7 L583.0 680.2 L587.0 680.0 L591.0 679.9 L595.0 680.1 L599.0 680.3 L603.0 680.7 L607.0 680.9 L611.0 681.0 L615.0 681.0 L619.0 680.8 L623.0 680.4 L627.0 680.0 L631.0 679.6 L635.0 679.3 L639.0 679.0 L643.0 678.9 L647.0 678.9 L651.0 678.9 L655.0 678.9 L659.0 678.7 L663.0 678.3 L667.0 677.7 L671.0 677.0 L675.0 676.2 L679.0 675.3 L683.0 674.5 L687.0 673.9 L691.0 673.5 L695.0 673.3 L699.0 673.2 L703.0 673.2 L707.0 673.2 L711.0 673.1 L715.0 672.9 L719.0 672.6 L723.0 672.2 L727.0 671.8 L731.0 671.4 L735.0 671.2 L739.0 671.1 L743.0 671.2 L747.0 671.5 L751.0 671.8 L755.0 672.0 L759.0 672.2 L763.0 672.2 L767.0 672.0 L771.0 671.5 L775.0 671.0 L779.0 670.3" stroke="#444446" stroke-width="1.1" fill="none"/>
<path d="M455.0 691.3 L459.0 691.4 L463.0 691.3 L467.0 691.1 L471.0 690.8 L475.0 690.5 L479.0 690.1 L483.0 689.9 L487.0 689.8 L491.0 689.8 L495.0 690.0 L499.0 690.2 L503.0 690.4 L507.0 690.5 L511.0 690.4 L515.0 690.0 L519.0 689.5 L523.0 688.8 L527.0 688.0 L531.0 687.3 L535.0 686.6 L539.0 686.1 L543.0 685.8 L547.0 685.6 L551.0 685.4 L555.0 685.3 L559.0 685.0 L563.0 684.6 L567.0 684.1 L571.0 683.5 L575.0 682.9 L579.0 682.3 L583.0 681.8 L587.0 681.6 L591.0 681.5 L595.0 681.7 L599.0 681.9 L603.0 682.3 L607.0 682.5 L611.0 682.6 L615.0 682.6 L619.0 682.4 L623.0 682.0 L627.0 681.6 L631.0 681.2 L635.0 680.9 L639.0 680.6 L643.0 680.5 L647.0 680.5 L651.0 680.5 L655.0 680.5 L659.0 680.3 L663.0 679.9 L667.0 679.3 L671.0 678.6 L675.0 677.8 L679.0 676.9 L683.0 676.1 L687.0 675.5 L691.0 675.1 L695.0 674.9 L699.0 674.8 L703.0 674.8 L707.0 674.8 L711.0 674.7 L715.0 674.5 L719.0 674.2 L723.0 673.8 L727.0 673.4 L731.0 673.0 L735.0 672.8 L739.0 672.7 L743.0 672.8 L747.0 673.1 L751.0 673.4 L755.0 673.6 L759.0 673.8 L763.0 673.8 L767.0 673.6 L771.0 673.1 L775.0 672.6 L779.0 671.9" stroke="#1a1a1b" stroke-width="1.1" fill="none"/>
<path d="M455.0 693.3 L459.0 693.4 L463.0 693.5 L467.0 693.5 L471.0 693.4 L475.0 693.2 L479.0 692.9 L483.0 692.5 L487.0 692.1 L491.0 691.9 L495.0 691.8 L499.0 691.9 L503.0 692.1 L507.0 692.4 L511.0 692.6 L515.0 692.7 L519.0 692.6 L523.0 692.3 L527.0 691.8 L531.0 691.2 L535.0 690.5 L539.0 689.8 L543.0 689.1 L547.0 688.7 L551.0 688.3 L555.0 688.1 L559.0 688.0 L563.0 687.8 L567.0 687.5 L571.0 687.1 L575.0 686.5 L579.0 685.9 L583.0 685.2 L587.0 684.6 L591.0 684.1 L595.0 683.8 L599.0 683.7 L603.0 683.8 L607.0 684.0 L611.0 684.3 L615.0 684.5 L619.0 684.7 L623.0 684.6 L627.0 684.4 L631.0 684.1 L635.0 683.7 L639.0 683.3 L643.0 683.0 L647.0 682.8 L651.0 682.8 L655.0 682.8 L659.0 682.9 L663.0 682.9 L667.0 682.7 L671.0 682.4 L675.0 681.8 L679.0 681.1 L683.0 680.3 L687.0 679.4 L691.0 678.7 L695.0 678.1 L699.0 677.6 L703.0 677.4 L707.0 677.3 L711.0 677.2 L715.0 677.2 L719.0 677.0 L723.0 676.8 L727.0 676.4 L731.0 675.9 L735.0 675.5 L739.0 675.1 L743.0 674.8 L747.0 674.7 L751.0 674.8 L755.0 675.1 L759.0 675.4 L763.0 675.7 L767.0 675.9 L771.0 675.9 L775.0 675.7 L779.0 675.3" stroke="#444446" stroke-width="1.1" fill="none"/>
<path d="M455.0 694.9 L459.0 695.0 L463.0 695.1 L467.0 695.1 L471.0 695.0 L475.0 694.8 L479.0 694.5 L483.0 694.1 L487.0 693.7 L491.0 693.5 L495.0 693.4 L499.0 693.5 L503.0 693.7 L507.0 694.0 L511.0 694.2 L515.0 694.3 L519.0 694.2 L523.0 693.9 L527.0 693.4 L531.0 692.8 L535.0 692.1 L539.0 691.4 L543.0 690.7 L547.0 690.3 L551.0 689.9 L555.0 689.7 L559.0 689.6 L563.0 689.4 L567.0 689.1 L571.0 688.7 L575.0 688.1 L579.0 687.5 L583.0 686.8 L587.0 686.2 L591.0 685.7 L595.0 685.4 L599.0 685.3 L603.0 685.4 L607.0 685.6 L611.0 685.9 L615.0 686.1 L619.0 686.3 L623.0 686.2 L627.0 686.0 L631.0 685.7 L635.0 685.3 L639.0 684.9 L643.0 684.6 L647.0 684.4 L651.0 684.4 L655.0 684.4 L659.0 684.5 L663.0 684.5 L667.0 684.3 L671.0 684.0 L675.0 683.4 L679.0 682.7 L683.0 681.9 L687.0 681.0 L691.0 680.3 L695.0 679.7 L699.0 679.2 L703.0 679.0 L707.0 678.9 L711.0 678.8 L715.0 678.8 L719.0 678.6 L723.0 678.4 L727.0 678.0 L731.0 677.5 L735.0 677.1 L739.0 676.7 L743.0 676.4 L747.0 676.3 L751.0 676.4 L755.0 676.7 L759.0 677.0 L763.0 677.3 L767.0 677.5 L771.0 677.5 L775.0 677.3 L779.0 676.9" stroke="#1a1a1b" stroke-width="1.1" fill="none"/>
<path d="M455.0 698.1 L459.0 697.4 L463.0 696.8 L467.0 696.4 L471.0 696.3 L475.0 696.3 L479.0 696.5 L483.0 696.7 L487.0 696.9 L491.0 697.0 L495.0 697.0 L499.0 696.8 L503.0 696.5 L507.0 696.1 L511.0 695.8 L515.0 695.5 L519.0 695.4 L523.0 695.4 L527.0 695.5 L531.0 695.6 L535.0 695.7 L539.0 695.6 L543.0 695.3 L547.0 694.8 L551.0 694.2 L555.0 693.4 L559.0 692.5 L563.0 691.8 L567.0 691.1 L571.0 690.7 L575.0 690.4 L579.0 690.2 L583.0 690.1 L587.0 690.0 L591.0 689.8 L595.0 689.5 L599.0 689.1 L603.0 688.5 L607.0 688.0 L611.0 687.5 L615.0 687.2 L619.0 687.1 L623.0 687.2 L627.0 687.4 L631.0 687.7 L635.0 688.1 L639.0 688.3 L643.0 688.4 L647.0 688.2 L651.0 687.9 L655.0 687.4 L659.0 686.9 L663.0 686.4 L667.0 686.0 L671.0 685.7 L675.0 685.6 L679.0 685.5 L683.0 685.4 L687.0 685.2 L691.0 684.9 L695.0 684.4 L699.0 683.8 L703.0 683.0 L707.0 682.2 L711.0 681.4 L715.0 680.7 L719.0 680.2 L723.0 680.0 L727.0 679.9 L731.0 679.9 L735.0 680.0 L739.0 680.1 L743.0 680.1 L747.0 679.9 L751.0 679.7 L755.0 679.3 L759.0 678.9 L763.0 678.6 L767.0 678.5 L771.0 678.4 L775.0 678.6 L779.0 678.8" stroke="#444446" stroke-width="1.1" fill="none"/>
<path d="M455.0 699.7 L459.0 699.0 L463.0 698.4 L467.0 698.0 L471.0 697.9 L475.0 697.9 L479.0 698.1 L483.0 698.3 L487.0 698.5 L491.0 698.6 L495.0 698.6 L499.0 698.4 L503.0 698.1 L507.0 697.7 L511.0 697.4 L515.0 697.1 L519.0 697.0 L523.0 697.0 L527.0 697.1 L531.0 697.2 L535.0 697.3 L539.0 697.2 L543.0 696.9 L547.0 696.4 L551.0 695.8 L555.0 695.0 L559.0 694.1 L563.0 693.4 L567.0 692.7 L571.0 692.3 L575.0 692.0 L579.0 691.8 L583.0 691.7 L587.0 691.6 L591.0 691.4 L595.0 691.1 L599.0 690.7 L603.0 690.1 L607.0 689.6 L611.0 689.1 L615.0 688.8 L619.0 688.7 L623.0 688.8 L627.0 689.0 L631.0 689.3 L635.0 689.7 L639.0 689.9 L643.0 690.0 L647.0 689.8 L651.0 689.5 L655.0 689.0 L659.0 688.5 L663.0 688.0 L667.0 687.6 L671.0 687.3 L675.0 687.2 L679.0 687.1 L683.0 687.0 L687.0 686.8 L691.0 686.5 L695.0 686.0 L699.0 685.4 L703.0 684.6 L707.0 683.8 L711.0 683.0 L715.0 682.3 L719.0 681.8 L723.0 681.6 L727.0 681.5 L731.0 681.5 L735.0 681.6 L739.0 681.7 L743.0 681.7 L747.0 681.5 L751.0 681.3 L755.0 680.9 L759.0 680.5 L763.0 680.2 L767.0 680.1 L771.0 680.0 L775.0 680.2 L779.0 680.4" stroke="#1a1a1b" stroke-width="1.1" fill="none"/>
<path d="M455.0 704.8 L459.0 704.6 L463.0 704.3 L467.0 703.7 L471.0 703.0 L475.0 702.2 L479.0 701.3 L483.0 700.6 L487.0 699.9 L491.0 699.5 L495.0 699.3 L499.0 699.3 L503.0 699.3 L507.0 699.4 L511.0 699.4 L515.0 699.3 L519.0 699.0 L523.0 698.7 L527.0 698.3 L531.0 697.9 L535.0 697.7 L539.0 697.6 L543.0 697.6 L547.0 697.8 L551.0 698.1 L555.0 698.4 L559.0 698.5 L563.0 698.5 L567.0 698.3 L571.0 697.8 L575.0 697.2 L579.0 696.5 L583.0 695.8 L587.0 695.2 L591.0 694.8 L595.0 694.4 L599.0 694.2 L603.0 694.1 L607.0 693.9 L611.0 693.6 L615.0 693.2 L619.0 692.6 L623.0 692.0 L627.0 691.2 L631.0 690.6 L635.0 690.0 L639.0 689.7 L643.0 689.5 L647.0 689.6 L651.0 689.8 L655.0 690.0 L659.0 690.3 L663.0 690.4 L667.0 690.4 L671.0 690.2 L675.0 689.9 L679.0 689.5 L683.0 689.1 L687.0 688.9 L691.0 688.7 L695.0 688.7 L699.0 688.7 L703.0 688.8 L707.0 688.9 L711.0 688.8 L715.0 688.5 L719.0 687.9 L723.0 687.3 L727.0 686.4 L731.0 685.6 L735.0 684.8 L739.0 684.2 L743.0 683.7 L747.0 683.4 L751.0 683.3 L755.0 683.2 L759.0 683.1 L763.0 683.0 L767.0 682.7 L771.0 682.3 L775.0 681.8 L779.0 681.3" stroke="#444446" stroke-width="1.1" fill="none"/>
<path d="M455.0 706.4 L459.0 706.2 L463.0 705.9 L467.0 705.3 L471.0 704.6 L475.0 703.8 L479.0 702.9 L483.0 702.2 L487.0 701.5 L491.0 701.1 L495.0 700.9 L499.0 700.9 L503.0 700.9 L507.0 701.0 L511.0 701.0 L515.0 700.9 L519.0 700.6 L523.0 700.3 L527.0 699.9 L531.0 699.5 L535.0 699.3 L539.0 699.2 L543.0 699.2 L547.0 699.4 L551.0 699.7 L555.0 700.0 L559.0 700.1 L563.0 700.1 L567.0 699.9 L571.0 699.4 L575.0 698.8 L579.0 698.1 L583.0 697.4 L587.0 696.8 L591.0 696.4 L595.0 696.0 L599.0 695.8 L603.0 695.7 L607.0 695.5 L611.0 695.2 L615.0 694.8 L619.0 694.2 L623.0 693.6 L627.0 692.8 L631.0 692.2 L635.0 691.6 L639.0 691.3 L643.0 691.1 L647.0 691.2 L651.0 691.4 L655.0 691.6 L659.0 691.9 L663.0 692.0 L667.0 692.0 L671.0 691.8 L675.0 691.5 L679.0 691.1 L683.0 690.7 L687.0 690.5 L691.0 690.3 L695.0 690.3 L699.0 690.3 L703.0 690.4 L707.0 690.5 L711.0 690.4 L715.0 690.1 L719.0 689.5 L723.0 688.9 L727.0 688.0 L731.0 687.2 L735.0 686.4 L739.0 685.8 L743.0 685.3 L747.0 685.0 L751.0 684.9 L755.0 684.8 L759.0 684.7 L763.0 684.6 L767.0 684.3 L771.0 683.9 L775.0 683.4 L779.0 682.9" stroke="#1a1a1b" stroke-width="1.1" fill="none"/>
<path d="M455.0 708.4 L459.0 708.7 L463.0 708.9 L467.0 708.9 L471.0 708.7 L475.0 708.4 L479.0 707.8 L483.0 707.2 L487.0 706.6 L491.0 706.1 L495.0 705.8 L499.0 705.5 L503.0 705.4 L507.0 705.2 L511.0 705.0 L515.0 704.7 L519.0 704.3 L523.0 703.6 L527.0 702.9 L531.0 702.1 L535.0 701.3 L539.0 700.7 L543.0 700.3 L547.0 700.1 L551.0 700.1 L555.0 700.2 L559.0 700.4 L563.0 700.6 L567.0 700.6 L571.0 700.5 L575.0 700.3 L579.0 700.0 L583.0 699.6 L587.0 699.3 L591.0 699.1 L595.0 699.0 L599.0 699.1 L603.0 699.3 L607.0 699.5 L611.0 699.6 L615.0 699.5 L619.0 699.3 L623.0 698.8 L627.0 698.2 L631.0 697.4 L635.0 696.6 L639.0 695.9 L643.0 695.3 L647.0 694.9 L651.0 694.6 L655.0 694.4 L659.0 694.3 L663.0 694.1 L667.0 693.8 L671.0 693.4 L675.0 692.9 L679.0 692.3 L683.0 691.7 L687.0 691.2 L691.0 690.9 L695.0 690.7 L699.0 690.8 L703.0 691.0 L707.0 691.4 L711.0 691.7 L715.0 691.9 L719.0 691.9 L723.0 691.8 L727.0 691.5 L731.0 691.1 L735.0 690.6 L739.0 690.2 L743.0 689.9 L747.0 689.7 L751.0 689.6 L755.0 689.5 L759.0 689.5 L763.0 689.4 L767.0 689.1 L771.0 688.6 L775.0 687.9 L779.0 687.1" stroke="#444446" stroke-width="1.1" fill="none"/>
<path d="M455.0 710.0 L459.0 710.3 L463.0 710.5 L467.0 710.5 L471.0 710.3 L475.0 710.0 L479.0 709.4 L483.0 708.8 L487.0 708.2 L491.0 707.7 L495.0 707.4 L499.0 707.1 L503.0 707.0 L507.0 706.8 L511.0 706.6 L515.0 706.3 L519.0 705.9 L523.0 705.2 L527.0 704.5 L531.0 703.7 L535.0 702.9 L539.0 702.3 L543.0 701.9 L547.0 701.7 L551.0 701.7 L555.0 701.8 L559.0 702.0 L563.0 702.2 L567.0 702.2 L571.0 702.1 L575.0 701.9 L579.0 701.6 L583.0 701.2 L587.0 700.9 L591.0 700.7 L595.0 700.6 L599.0 700.7 L603.0 700.9 L607.0 701.1 L611.0 701.2 L615.0 701.1 L619.0 700.9 L623.0 700.4 L627.0 699.8 L631.0 699.0 L635.0 698.2 L639.0 697.5 L643.0 696.9 L647.0 696.5 L651.0 696.2 L655.0 696.0 L659.0 695.9 L663.0 695.7 L667.0 695.4 L671.0 695.0 L675.0 694.5 L679.0 693.9 L683.0 693.3 L687.0 692.8 L691.0 692.5 L695.0 692.3 L699.0 692.4 L703.0 692.6 L707.0 693.0 L711.0 693.3 L715.0 693.5 L719.0 693.5 L723.0 693.4 L727.0 693.1 L731.0 692.7 L735.0 692.2 L739.0 691.8 L743.0 691.5 L747.0 691.3 L751.0 691.2 L755.0 691.1 L759.0 691.1 L763.0 691.0 L767.0 690.7 L771.0 690.2 L775.0 689.5 L779.0 688.7" stroke="#1a1a1b" stroke-width="1.1" fill="none"/>
<path d="M455.0 710.8 L459.0 710.3 L463.0 709.9 L467.0 709.7 L471.0 709.8 L475.0 710.0 L479.0 710.2 L483.0 710.3 L487.0 710.4 L491.0 710.3 L495.0 710.1 L499.0 709.7 L503.0 709.4 L507.0 709.1 L511.0 708.9 L515.0 708.8 L519.0 708.9 L523.0 709.0 L527.0 709.1 L531.0 709.2 L535.0 709.1 L539.0 708.8 L543.0 708.3 L547.0 707.6 L551.0 706.8 L555.0 706.0 L559.0 705.3 L563.0 704.7 L567.0 704.3 L571.0 704.0 L575.0 703.9 L579.0 703.7 L583.0 703.6 L587.0 703.3 L591.0 703.0 L595.0 702.5 L599.0 701.9 L603.0 701.4 L607.0 700.9 L611.0 700.6 L615.0 700.5 L619.0 700.6 L623.0 700.8 L627.0 701.2 L631.0 701.5 L635.0 701.7 L639.0 701.7 L643.0 701.6 L647.0 701.2 L651.0 700.8 L655.0 700.3 L659.0 699.8 L663.0 699.5 L667.0 699.3 L671.0 699.1 L675.0 699.1 L679.0 699.0 L683.0 698.8 L687.0 698.5 L691.0 698.0 L695.0 697.3 L699.0 696.5 L703.0 695.7 L707.0 694.9 L711.0 694.2 L715.0 693.8 L719.0 693.5 L723.0 693.4 L727.0 693.5 L731.0 693.5 L735.0 693.6 L739.0 693.5 L743.0 693.3 L747.0 693.0 L751.0 692.6 L755.0 692.2 L759.0 691.9 L763.0 691.8 L767.0 691.8 L771.0 692.0 L775.0 692.2 L779.0 692.5" stroke="#444446" stroke-width="1.1" fill="none"/>
<path d="M455.0 712.4 L459.0 711.9 L463.0 711.5 L467.0 711.3 L471.0 711.4 L475.0 711.6 L479.0 711.8 L483.0 711.9 L487.0 712.0 L491.0 711.9 L495.0 711.7 L499.0 711.3 L503.0 711.0 L507.0 710.7 L511.0 710.5 L515.0 710.4 L519.0 710.5 L523.0 710.6 L527.0 710.7 L531.0 710.8 L535.0 710.7 L539.0 710.4 L543.0 709.9 L547.0 709.2 L551.0 708.4 L555.0 707.6 L559.0 706.9 L563.0 706.3 L567.0 705.9 L571.0 705.6 L575.0 705.5 L579.0 705.3 L583.0 705.2 L587.0 704.9 L591.0 704.6 L595.0 704.1 L599.0 703.5 L603.0 703.0 L607.0 702.5 L611.0 702.2 L615.0 702.1 L619.0 702.2 L623.0 702.4 L627.0 702.8 L631.0 703.1 L635.0 703.3 L639.0 703.3 L643.0 703.2 L647.0 702.8 L651.0 702.4 L655.0 701.9 L659.0 701.4 L663.0 701.1 L667.0 700.9 L671.0 700.7 L675.0 700.7 L679.0 700.6 L683.0 700.4 L687.0 700.1 L691.0 699.6 L695.0 698.9 L699.0 698.1 L703.0 697.3 L707.0 696.5 L711.0 695.8 L715.0 695.4 L719.0 695.1 L723.0 695.0 L727.0 695.1 L731.0 695.1 L735.0 695.2 L739.0 695.1 L743.0 694.9 L747.0 694.6 L751.0 694.2 L755.0 693.8 L759.0 693.5 L763.0 693.4 L767.0 693.4 L771.0 693.6 L775.0 693.8 L779.0 694.1" stroke="#1a1a1b" stroke-width="1.1" fill="none"/>
<path d="M455.0 718.5 L459.0 718.1 L463.0 717.5 L467.0 716.8 L471.0 715.9 L475.0 715.1 L479.0 714.3 L483.0 713.7 L487.0 713.3 L491.0 713.1 L495.0 713.0 L499.0 713.0 L503.0 712.9 L507.0 712.8 L511.0 712.6 L515.0 712.2 L519.0 711.7 L523.0 711.3 L527.0 710.9 L531.0 710.7 L535.0 710.6 L539.0 710.7 L543.0 711.0 L547.0 711.3 L551.0 711.6 L555.0 711.8 L559.0 711.8 L563.0 711.5 L567.0 711.1 L571.0 710.6 L575.0 710.0 L579.0 709.4 L583.0 708.9 L587.0 708.6 L591.0 708.4 L595.0 708.2 L599.0 708.1 L603.0 707.9 L607.0 707.5 L611.0 707.0 L615.0 706.4 L619.0 705.6 L623.0 704.8 L627.0 704.1 L631.0 703.5 L635.0 703.1 L639.0 703.0 L643.0 703.0 L647.0 703.1 L651.0 703.3 L655.0 703.5 L659.0 703.5 L663.0 703.4 L667.0 703.1 L671.0 702.8 L675.0 702.4 L679.0 702.1 L683.0 702.0 L687.0 701.9 L691.0 702.0 L695.0 702.2 L699.0 702.4 L703.0 702.5 L707.0 702.4 L711.0 702.1 L715.0 701.6 L719.0 700.9 L723.0 700.1 L727.0 699.4 L731.0 698.6 L735.0 698.1 L739.0 697.7 L743.0 697.4 L747.0 697.2 L751.0 697.1 L755.0 696.9 L759.0 696.6 L763.0 696.2 L767.0 695.7 L771.0 695.1 L775.0 694.5 L779.0 694.0" stroke="#444446" stroke-width="1.1" fill="none"/>
<path d="M455.0 720.1 L459.0 719.7 L463.0 719.1 L467.0 718.4 L471.0 717.5 L475.0 716.7 L479.0 715.9 L483.0 715.3 L487.0 714.9 L491.0 714.7 L495.0 714.6 L499.0 714.6 L503.0 714.5 L507.0 714.4 L511.0 714.2 L515.0 713.8 L519.0 713.3 L523.0 712.9 L527.0 712.5 L531.0 712.3 L535.0 712.2 L539.0 712.3 L543.0 712.6 L547.0 712.9 L551.0 713.2 L555.0 713.4 L559.0 713.4 L563.0 713.1 L567.0 712.7 L571.0 712.2 L575.0 711.6 L579.0 711.0 L583.0 710.5 L587.0 710.2 L591.0 710.0 L595.0 709.8 L599.0 709.7 L603.0 709.5 L607.0 709.1 L611.0 708.6 L615.0 708.0 L619.0 707.2 L623.0 706.4 L627.0 705.7 L631.0 705.1 L635.0 704.7 L639.0 704.6 L643.0 704.6 L647.0 704.7 L651.0 704.9 L655.0 705.1 L659.0 705.1 L663.0 705.0 L667.0 704.7 L671.0 704.4 L675.0 704.0 L679.0 703.7 L683.0 703.6 L687.0 703.5 L691.0 703.6 L695.0 703.8 L699.0 704.0 L703.0 704.1 L707.0 704.0 L711.0 703.7 L715.0 703.2 L719.0 702.5 L723.0 701.7 L727.0 701.0 L731.0 700.2 L735.0 699.7 L739.0 699.3 L743.0 699.0 L747.0 698.8 L751.0 698.7 L755.0 698.5 L759.0 698.2 L763.0 697.8 L767.0 697.3 L771.0 696.7 L775.0 696.1 L779.0 695.6" stroke="#1a1a1b" stroke-width="1.1" fill="none"/>
<path d="M455.0 720.3 L459.0 720.5 L463.0 720.8 L467.0 721.1 L471.0 721.4 L475.0 721.5 L479.0 721.4 L483.0 721.1 L487.0 720.7 L491.0 720.1 L495.0 719.5 L499.0 718.9 L503.0 718.5 L507.0 718.2 L511.0 718.0 L515.0 717.9 L519.0 717.7 L523.0 717.5 L527.0 717.1 L531.0 716.5 L535.0 715.8 L539.0 715.0 L543.0 714.3 L547.0 713.6 L551.0 713.0 L555.0 712.7 L559.0 712.6 L563.0 712.7 L567.0 712.9 L571.0 713.1 L575.0 713.2 L579.0 713.1 L583.0 713.0 L587.0 712.7 L591.0 712.3 L595.0 712.0 L599.0 711.7 L603.0 711.6 L607.0 711.6 L611.0 711.7 L615.0 711.9 L619.0 712.1 L623.0 712.1 L627.0 712.0 L631.0 711.6 L635.0 711.1 L639.0 710.4 L643.0 709.6 L647.0 708.8 L651.0 708.1 L655.0 707.6 L659.0 707.3 L663.0 707.0 L667.0 706.9 L671.0 706.7 L675.0 706.5 L679.0 706.2 L683.0 705.7 L687.0 705.2 L691.0 704.6 L695.0 704.0 L699.0 703.6 L703.0 703.3 L707.0 703.3 L711.0 703.4 L715.0 703.7 L719.0 704.0 L723.0 704.3 L727.0 704.5 L731.0 704.4 L735.0 704.2 L739.0 703.9 L743.0 703.4 L747.0 703.0 L751.0 702.6 L755.0 702.3 L759.0 702.2 L763.0 702.1 L767.0 702.1 L771.0 702.0 L775.0 701.8 L779.0 701.4" stroke="#444446" stroke-width="1.1" fill="none"/>
<path d="M455.0 721.9 L459.0 722.1 L463.0 722.4 L467.0 722.7 L471.0 723.0 L475.0 723.1 L479.0 723.0 L483.0 722.7 L487.0 722.3 L491.0 721.7 L495.0 721.1 L499.0 720.5 L503.0 720.1 L507.0 719.8 L511.0 719.6 L515.0 719.5 L519.0 719.3 L523.0 719.1 L527.0 718.7 L531.0 718.1 L535.0 717.4 L539.0 716.6 L543.0 715.9 L547.0 715.2 L551.0 714.6 L555.0 714.3 L559.0 714.2 L563.0 714.3 L567.0 714.5 L571.0 714.7 L575.0 714.8 L579.0 714.7 L583.0 714.6 L587.0 714.3 L591.0 713.9 L595.0 713.6 L599.0 713.3 L603.0 713.2 L607.0 713.2 L611.0 713.3 L615.0 713.5 L619.0 713.7 L623.0 713.7 L627.0 713.6 L631.0 713.2 L635.0 712.7 L639.0 712.0 L643.0 711.2 L647.0 710.4 L651.0 709.7 L655.0 709.2 L659.0 708.9 L663.0 708.6 L667.0 708.5 L671.0 708.3 L675.0 708.1 L679.0 707.8 L683.0 707.3 L687.0 706.8 L691.0 706.2 L695.0 705.6 L699.0 705.2 L703.0 704.9 L707.0 704.9 L711.0 705.0 L715.0 705.3 L719.0 705.6 L723.0 705.9 L727.0 706.1 L731.0 706.0 L735.0 705.8 L739.0 705.5 L743.0 705.0 L747.0 704.6 L751.0 704.2 L755.0 703.9 L759.0 703.8 L763.0 703.7 L767.0 703.7 L771.0 703.6 L775.0 703.4 L779.0 703.0" stroke="#1a1a1b" stroke-width="1.1" fill="none"/>
<path d="M455.0 726.4 L459.0 726.0 L463.0 725.6 L467.0 725.4 L471.0 725.3 L475.0 725.2 L479.0 725.3 L483.0 725.2 L487.0 725.1 L491.0 724.8 L495.0 724.3 L499.0 723.6 L503.0 722.7 L507.0 721.9 L511.0 721.1 L515.0 720.5 L519.0 720.0 L523.0 719.7 L527.0 719.6 L531.0 719.6 L535.0 719.6 L539.0 719.5 L543.0 719.3 L547.0 719.0 L551.0 718.6 L555.0 718.1 L559.0 717.7 L563.0 717.5 L567.0 717.3 L571.0 717.4 L575.0 717.6 L579.0 717.9 L583.0 718.2 L587.0 718.4 L591.0 718.5 L595.0 718.3 L599.0 718.0 L603.0 717.4 L607.0 716.8 L611.0 716.2 L615.0 715.7 L619.0 715.3 L623.0 715.0 L627.0 714.8 L631.0 714.6 L635.0 714.5 L639.0 714.2 L643.0 713.7 L647.0 713.1 L651.0 712.4 L655.0 711.6 L659.0 710.9 L663.0 710.3 L667.0 709.8 L671.0 709.6 L675.0 709.6 L679.0 709.7 L683.0 709.9 L687.0 710.1 L691.0 710.2 L695.0 710.2 L699.0 710.0 L703.0 709.7 L707.0 709.3 L711.0 709.0 L715.0 708.7 L719.0 708.6 L723.0 708.7 L727.0 708.8 L731.0 709.0 L735.0 709.1 L739.0 709.0 L743.0 708.8 L747.0 708.4 L751.0 707.7 L755.0 707.0 L759.0 706.2 L763.0 705.4 L767.0 704.8 L771.0 704.3 L775.0 704.0 L779.0 703.8" stroke="#444446" stroke-width="1.1" fill="none"/>
<path d="M455.0 728.0 L459.0 727.6 L463.0 727.2 L467.0 727.0 L471.0 726.9 L475.0 726.8 L479.0 726.9 L483.0 726.8 L487.0 726.7 L491.0 726.4 L495.0 725.9 L499.0 725.2 L503.0 724.3 L507.0 723.5 L511.0 722.7 L515.0 722.1 L519.0 721.6 L523.0 721.3 L527.0 721.2 L531.0 721.2 L535.0 721.2 L539.0 721.1 L543.0 720.9 L547.0 720.6 L551.0 720.2 L555.0 719.7 L559.0 719.3 L563.0 719.1 L567.0 718.9 L571.0 719.0 L575.0 719.2 L579.0 719.5 L583.0 719.8 L587.0 720.0 L591.0 720.1 L595.0 719.9 L599.0 719.6 L603.0 719.0 L607.0 718.4 L611.0 717.8 L615.0 717.3 L619.0 716.9 L623.0 716.6 L627.0 716.4 L631.0 716.2 L635.0 716.1 L639.0 715.8 L643.0 715.3 L647.0 714.7 L651.0 714.0 L655.0 713.2 L659.0 712.5 L663.0 711.9 L667.0 711.4 L671.0 711.2 L675.0 711.2 L679.0 711.3 L683.0 711.5 L687.0 711.7 L691.0 711.8 L695.0 711.8 L699.0 711.6 L703.0 711.3 L707.0 710.9 L711.0 710.6 L715.0 710.3 L719.0 710.2 L723.0 710.3 L727.0 710.4 L731.0 710.6 L735.0 710.7 L739.0 710.6 L743.0 710.4 L747.0 710.0 L751.0 709.3 L755.0 708.6 L759.0 707.8 L763.0 707.0 L767.0 706.4 L771.0 705.9 L775.0 705.6 L779.0 705.4" stroke="#1a1a1b" stroke-width="1.1" fill="none"/>
<path d="M455.0 728.7 L459.0 728.1 L463.0 727.5 L467.0 727.2 L471.0 727.1 L475.0 727.2 L479.0 727.4 L483.0 727.6 L487.0 727.8 L491.0 727.8 L495.0 727.6 L499.0 727.4 L503.0 727.0 L507.0 726.7 L511.0 726.4 L515.0 726.2 L519.0 726.2 L523.0 726.3 L527.0 726.4 L531.0 726.6 L535.0 726.6 L539.0 726.5 L543.0 726.1 L547.0 725.6 L551.0 724.9 L555.0 724.1 L559.0 723.3 L563.0 722.6 L567.0 722.0 L571.0 721.6 L575.0 721.4 L579.0 721.3 L583.0 721.1 L587.0 721.0 L591.0 720.7 L595.0 720.3 L599.0 719.7 L603.0 719.2 L607.0 718.6 L611.0 718.2 L615.0 717.9 L619.0 717.9 L623.0 718.0 L627.0 718.3 L631.0 718.6 L635.0 718.9 L639.0 719.1 L643.0 719.1 L647.0 718.9 L651.0 718.5 L655.0 718.0 L659.0 717.6 L663.0 717.1 L667.0 716.8 L671.0 716.6 L675.0 716.5 L679.0 716.5 L683.0 716.4 L687.0 716.2 L691.0 715.8 L695.0 715.3 L699.0 714.5 L703.0 713.7 L707.0 712.9 L711.0 712.1 L715.0 711.5 L719.0 711.1 L723.0 710.9 L727.0 710.9 L731.0 710.9 L735.0 711.0 L739.0 711.0 L743.0 710.9 L747.0 710.6 L751.0 710.3 L755.0 709.9 L759.0 709.5 L763.0 709.3 L767.0 709.2 L771.0 709.2 L775.0 709.4 L779.0 709.7" stroke="#444446" stroke-width="1.1" fill="none"/>
<path d="M455.0 730.3 L459.0 729.7 L463.0 729.1 L467.0 728.8 L471.0 728.7 L475.0 728.8 L479.0 729.0 L483.0 729.2 L487.0 729.4 L491.0 729.4 L495.0 729.2 L499.0 729.0 L503.0 728.6 L507.0 728.3 L511.0 728.0 L515.0 727.8 L519.0 727.8 L523.0 727.9 L527.0 728.0 L531.0 728.2 L535.0 728.2 L539.0 728.1 L543.0 727.7 L547.0 727.2 L551.0 726.5 L555.0 725.7 L559.0 724.9 L563.0 724.2 L567.0 723.6 L571.0 723.2 L575.0 723.0 L579.0 722.9 L583.0 722.7 L587.0 722.6 L591.0 722.3 L595.0 721.9 L599.0 721.3 L603.0 720.8 L607.0 720.2 L611.0 719.8 L615.0 719.5 L619.0 719.5 L623.0 719.6 L627.0 719.9 L631.0 720.2 L635.0 720.5 L639.0 720.7 L643.0 720.7 L647.0 720.5 L651.0 720.1 L655.0 719.6 L659.0 719.2 L663.0 718.7 L667.0 718.4 L671.0 718.2 L675.0 718.1 L679.0 718.1 L683.0 718.0 L687.0 717.8 L691.0 717.4 L695.0 716.9 L699.0 716.1 L703.0 715.3 L707.0 714.5 L711.0 713.7 L715.0 713.1 L719.0 712.7 L723.0 712.5 L727.0 712.5 L731.0 712.5 L735.0 712.6 L739.0 712.6 L743.0 712.5 L747.0 712.2 L751.0 711.9 L755.0 711.5 L759.0 711.1 L763.0 710.9 L767.0 710.8 L771.0 710.8 L775.0 711.0 L779.0 711.3" stroke="#1a1a1b" stroke-width="1.1" fill="none"/>
<path d="M455.0 733.1 L459.0 732.7 L463.0 732.3 L467.0 732.2 L471.0 732.3 L475.0 732.6 L479.0 732.9 L483.0 733.2 L487.0 733.4 L491.0 733.5 L495.0 733.3 L499.0 733.0 L503.0 732.5 L507.0 732.0 L511.0 731.5 L515.0 731.1 L519.0 730.8 L523.0 730.6 L527.0 730.5 L531.0 730.4 L535.0 730.3 L539.0 730.0 L543.0 729.5 L547.0 728.8 L551.0 728.0 L555.0 727.2 L559.0 726.4 L563.0 725.8 L567.0 725.3 L571.0 725.0 L575.0 725.0 L579.0 725.0 L583.0 725.1 L587.0 725.2 L591.0 725.2 L595.0 725.1 L599.0 724.8 L603.0 724.4 L607.0 724.1 L611.0 723.8 L615.0 723.6 L619.0 723.6 L623.0 723.7 L627.0 723.9 L631.0 724.2 L635.0 724.3 L639.0 724.4 L643.0 724.2 L647.0 723.8 L651.0 723.2 L655.0 722.5 L659.0 721.7 L663.0 721.1 L667.0 720.5 L671.0 720.1 L675.0 719.8 L679.0 719.6 L683.0 719.5 L687.0 719.3 L691.0 718.9 L695.0 718.5 L699.0 717.9 L703.0 717.2 L707.0 716.5 L711.0 716.0 L715.0 715.6 L719.0 715.4 L723.0 715.4 L727.0 715.6 L731.0 715.9 L735.0 716.2 L739.0 716.4 L743.0 716.4 L747.0 716.3 L751.0 716.0 L755.0 715.6 L759.0 715.2 L763.0 714.9 L767.0 714.6 L771.0 714.5 L775.0 714.5 L779.0 714.5" stroke="#444446" stroke-width="1.1" fill="none"/>
<path d="M455.0 734.7 L459.0 734.3 L463.0 733.9 L467.0 733.8 L471.0 733.9 L475.0 734.2 L479.0 734.5 L483.0 734.8 L487.0 735.0 L491.0 735.1 L495.0 734.9 L499.0 734.6 L503.0 734.1 L507.0 733.6 L511.0 733.1 L515.0 732.7 L519.0 732.4 L523.0 732.2 L527.0 732.1 L531.0 732.0 L535.0 731.9 L539.0 731.6 L543.0 731.1 L547.0 730.4 L551.0 729.6 L555.0 728.8 L559.0 728.0 L563.0 727.4 L567.0 726.9 L571.0 726.6 L575.0 726.6 L579.0 726.6 L583.0 726.7 L587.0 726.8 L591.0 726.8 L595.0 726.7 L599.0 726.4 L603.0 726.0 L607.0 725.7 L611.0 725.4 L615.0 725.2 L619.0 725.2 L623.0 725.3 L627.0 725.5 L631.0 725.8 L635.0 725.9 L639.0 726.0 L643.0 725.8 L647.0 725.4 L651.0 724.8 L655.0 724.1 L659.0 723.3 L663.0 722.7 L667.0 722.1 L671.0 721.7 L675.0 721.4 L679.0 721.2 L683.0 721.1 L687.0 720.9 L691.0 720.5 L695.0 720.1 L699.0 719.5 L703.0 718.8 L707.0 718.1 L711.0 717.6 L715.0 717.2 L719.0 717.0 L723.0 717.0 L727.0 717.2 L731.0 717.5 L735.0 717.8 L739.0 718.0 L743.0 718.0 L747.0 717.9 L751.0 717.6 L755.0 717.2 L759.0 716.8 L763.0 716.5 L767.0 716.2 L771.0 716.1 L775.0 716.1 L779.0 716.1" stroke="#1a1a1b" stroke-width="1.1" fill="none"/>
<path d="M455.0 737.2 L459.0 737.3 L463.0 737.6 L467.0 737.8 L471.0 737.9 L475.0 737.9 L479.0 737.7 L483.0 737.4 L487.0 737.1 L491.0 736.7 L495.0 736.4 L499.0 736.3 L503.0 736.3 L507.0 736.4 L511.0 736.5 L515.0 736.5 L519.0 736.5 L523.0 736.2 L527.0 735.8 L531.0 735.1 L535.0 734.3 L539.0 733.5 L543.0 732.7 L547.0 732.0 L551.0 731.6 L555.0 731.2 L559.0 731.1 L563.0 731.0 L567.0 730.9 L571.0 730.7 L575.0 730.4 L579.0 730.0 L583.0 729.5 L587.0 729.0 L591.0 728.5 L595.0 728.2 L599.0 728.0 L603.0 728.1 L607.0 728.3 L611.0 728.6 L615.0 728.9 L619.0 729.2 L623.0 729.3 L627.0 729.1 L631.0 728.8 L635.0 728.4 L639.0 727.9 L643.0 727.4 L647.0 726.9 L651.0 726.6 L655.0 726.4 L659.0 726.3 L663.0 726.2 L667.0 726.1 L671.0 725.8 L675.0 725.3 L679.0 724.7 L683.0 724.0 L687.0 723.1 L691.0 722.3 L695.0 721.6 L699.0 721.1 L703.0 720.8 L707.0 720.7 L711.0 720.8 L715.0 720.9 L719.0 721.0 L723.0 721.0 L727.0 720.9 L731.0 720.6 L735.0 720.3 L739.0 719.9 L743.0 719.6 L747.0 719.4 L751.0 719.3 L755.0 719.4 L759.0 719.6 L763.0 719.9 L767.0 720.1 L771.0 720.1 L775.0 720.0 L779.0 719.6" stroke="#444446" stroke-width="1.1" fill="none"/>
<path d="M455.0 738.8 L459.0 738.9 L463.0 739.2 L467.0 739.4 L471.0 739.5 L475.0 739.5 L479.0 739.3 L483.0 739.0 L487.0 738.7 L491.0 738.3 L495.0 738.0 L499.0 737.9 L503.0 737.9 L507.0 738.0 L511.0 738.1 L515.0 738.1 L519.0 738.1 L523.0 737.8 L527.0 737.4 L531.0 736.7 L535.0 735.9 L539.0 735.1 L543.0 734.3 L547.0 733.6 L551.0 733.2 L555.0 732.8 L559.0 732.7 L563.0 732.6 L567.0 732.5 L571.0 732.3 L575.0 732.0 L579.0 731.6 L583.0 731.1 L587.0 730.6 L591.0 730.1 L595.0 729.8 L599.0 729.6 L603.0 729.7 L607.0 729.9 L611.0 730.2 L615.0 730.5 L619.0 730.8 L623.0 730.9 L627.0 730.7 L631.0 730.4 L635.0 730.0 L639.0 729.5 L643.0 729.0 L647.0 728.5 L651.0 728.2 L655.0 728.0 L659.0 727.9 L663.0 727.8 L667.0 727.7 L671.0 727.4 L675.0 726.9 L679.0 726.3 L683.0 725.6 L687.0 724.7 L691.0 723.9 L695.0 723.2 L699.0 722.7 L703.0 722.4 L707.0 722.3 L711.0 722.4 L715.0 722.5 L719.0 722.6 L723.0 722.6 L727.0 722.5 L731.0 722.2 L735.0 721.9 L739.0 721.5 L743.0 721.2 L747.0 721.0 L751.0 720.9 L755.0 721.0 L759.0 721.2 L763.0 721.5 L767.0 721.7 L771.0 721.7 L775.0 721.6 L779.0 721.2" stroke="#1a1a1b" stroke-width="1.1" fill="none"/>
<path d="M455.0 745.0 L459.0 744.5 L463.0 743.9 L467.0 743.2 L471.0 742.6 L475.0 742.2 L479.0 741.8 L483.0 741.6 L487.0 741.5 L491.0 741.3 L495.0 741.0 L499.0 740.6 L503.0 740.1 L507.0 739.4 L511.0 738.6 L515.0 737.9 L519.0 737.3 L523.0 736.8 L527.0 736.6 L531.0 736.5 L535.0 736.6 L539.0 736.9 L543.0 737.1 L547.0 737.2 L551.0 737.2 L555.0 737.0 L559.0 736.8 L563.0 736.4 L567.0 736.0 L571.0 735.8 L575.0 735.6 L579.0 735.6 L583.0 735.7 L587.0 735.9 L591.0 736.0 L595.0 735.9 L599.0 735.7 L603.0 735.3 L607.0 734.7 L611.0 734.0 L615.0 733.1 L619.0 732.4 L623.0 731.7 L627.0 731.2 L631.0 730.8 L635.0 730.6 L639.0 730.5 L643.0 730.4 L647.0 730.2 L651.0 729.9 L655.0 729.5 L659.0 729.0 L663.0 728.4 L667.0 727.9 L671.0 727.5 L675.0 727.3 L679.0 727.3 L683.0 727.5 L687.0 727.8 L691.0 728.2 L695.0 728.4 L699.0 728.6 L703.0 728.5 L707.0 728.2 L711.0 727.8 L715.0 727.3 L719.0 726.8 L723.0 726.4 L727.0 726.1 L731.0 725.9 L735.0 725.8 L739.0 725.8 L743.0 725.6 L747.0 725.4 L751.0 725.0 L755.0 724.4 L759.0 723.6 L763.0 722.8 L767.0 722.0 L771.0 721.2 L775.0 720.7 L779.0 720.3" stroke="#444446" stroke-width="1.1" fill="none"/>
<path d="M455.0 746.6 L459.0 746.1 L463.0 745.5 L467.0 744.8 L471.0 744.2 L475.0 743.8 L479.0 743.4 L483.0 743.2 L487.0 743.1 L491.0 742.9 L495.0 742.6 L499.0 742.2 L503.0 741.7 L507.0 741.0 L511.0 740.2 L515.0 739.5 L519.0 738.9 L523.0 738.4 L527.0 738.2 L531.0 738.1 L535.0 738.2 L539.0 738.5 L543.0 738.7 L547.0 738.8 L551.0 738.8 L555.0 738.6 L559.0 738.4 L563.0 738.0 L567.0 737.6 L571.0 737.4 L575.0 737.2 L579.0 737.2 L583.0 737.3 L587.0 737.5 L591.0 737.6 L595.0 737.5 L599.0 737.3 L603.0 736.9 L607.0 736.3 L611.0 735.6 L615.0 734.7 L619.0 734.0 L623.0 733.3 L627.0 732.8 L631.0 732.4 L635.0 732.2 L639.0 732.1 L643.0 732.0 L647.0 731.8 L651.0 731.5 L655.0 731.1 L659.0 730.6 L663.0 730.0 L667.0 729.5 L671.0 729.1 L675.0 728.9 L679.0 728.9 L683.0 729.1 L687.0 729.4 L691.0 729.8 L695.0 730.0 L699.0 730.2 L703.0 730.1 L707.0 729.8 L711.0 729.4 L715.0 728.9 L719.0 728.4 L723.0 728.0 L727.0 727.7 L731.0 727.5 L735.0 727.4 L739.0 727.4 L743.0 727.2 L747.0 727.0 L751.0 726.6 L755.0 726.0 L759.0 725.2 L763.0 724.4 L767.0 723.6 L771.0 722.8 L775.0 722.3 L779.0 721.9" stroke="#1a1a1b" stroke-width="1.1" fill="none"/>
<path d="M455.0 748.4 L459.0 748.1 L463.0 747.8 L467.0 747.4 L471.0 747.0 L475.0 746.8 L479.0 746.6 L483.0 746.6 L487.0 746.7 L491.0 746.7 L495.0 746.7 L499.0 746.4 L503.0 746.0 L507.0 745.4 L511.0 744.6 L515.0 743.8 L519.0 743.0 L523.0 742.3 L527.0 741.7 L531.0 741.3 L535.0 741.1 L539.0 741.0 L543.0 741.0 L547.0 740.9 L551.0 740.8 L555.0 740.5 L559.0 740.1 L563.0 739.6 L567.0 739.1 L571.0 738.8 L575.0 738.6 L579.0 738.5 L583.0 738.7 L587.0 739.0 L591.0 739.3 L595.0 739.6 L599.0 739.7 L603.0 739.7 L607.0 739.4 L611.0 739.0 L615.0 738.4 L619.0 737.9 L623.0 737.3 L627.0 736.9 L631.0 736.6 L635.0 736.4 L639.0 736.2 L643.0 736.1 L647.0 735.9 L651.0 735.5 L655.0 735.0 L659.0 734.3 L663.0 733.5 L667.0 732.7 L671.0 732.0 L675.0 731.4 L679.0 731.1 L683.0 731.0 L687.0 731.0 L691.0 731.1 L695.0 731.3 L699.0 731.4 L703.0 731.4 L707.0 731.3 L711.0 731.0 L715.0 730.6 L719.0 730.3 L723.0 730.0 L727.0 729.9 L731.0 729.9 L735.0 730.0 L739.0 730.2 L743.0 730.4 L747.0 730.4 L751.0 730.3 L755.0 730.0 L759.0 729.5 L763.0 728.8 L767.0 728.0 L771.0 727.3 L775.0 726.6 L779.0 726.0" stroke="#444446" stroke-width="1.1" fill="none"/>
<path d="M455.0 750.0 L459.0 749.7 L463.0 749.4 L467.0 749.0 L471.0 748.6 L475.0 748.4 L479.0 748.2 L483.0 748.2 L487.0 748.3 L491.0 748.3 L495.0 748.3 L499.0 748.0 L503.0 747.6 L507.0 747.0 L511.0 746.2 L515.0 745.4 L519.0 744.6 L523.0 743.9 L527.0 743.3 L531.0 742.9 L535.0 742.7 L539.0 742.6 L543.0 742.6 L547.0 742.5 L551.0 742.4 L555.0 742.1 L559.0 741.7 L563.0 741.2 L567.0 740.7 L571.0 740.4 L575.0 740.2 L579.0 740.1 L583.0 740.3 L587.0 740.6 L591.0 740.9 L595.0 741.2 L599.0 741.3 L603.0 741.3 L607.0 741.0 L611.0 740.6 L615.0 740.0 L619.0 739.5 L623.0 738.9 L627.0 738.5 L631.0 738.2 L635.0 738.0 L639.0 737.8 L643.0 737.7 L647.0 737.5 L651.0 737.1 L655.0 736.6 L659.0 735.9 L663.0 735.1 L667.0 734.3 L671.0 733.6 L675.0 733.0 L679.0 732.7 L683.0 732.6 L687.0 732.6 L691.0 732.7 L695.0 732.9 L699.0 733.0 L703.0 733.0 L707.0 732.9 L711.0 732.6 L715.0 732.2 L719.0 731.9 L723.0 731.6 L727.0 731.5 L731.0 731.5 L735.0 731.6 L739.0 731.8 L743.0 732.0 L747.0 732.0 L751.0 731.9 L755.0 731.6 L759.0 731.1 L763.0 730.4 L767.0 729.6 L771.0 728.9 L775.0 728.2 L779.0 727.6" stroke="#1a1a1b" stroke-width="1.1" fill="none"/>
<path d="M455.0 751.6 L459.0 751.3 L463.0 750.9 L467.0 750.6 L471.0 750.5 L475.0 750.5 L479.0 750.6 L483.0 750.9 L487.0 751.1 L491.0 751.3 L495.0 751.3 L499.0 751.1 L503.0 750.7 L507.0 750.1 L511.0 749.4 L515.0 748.7 L519.0 748.1 L523.0 747.5 L527.0 747.2 L531.0 746.9 L535.0 746.7 L539.0 746.6 L543.0 746.3 L547.0 746.0 L551.0 745.5 L555.0 744.8 L559.0 744.1 L563.0 743.5 L567.0 742.9 L571.0 742.5 L575.0 742.3 L579.0 742.3 L583.0 742.5 L587.0 742.8 L591.0 743.1 L595.0 743.2 L599.0 743.3 L603.0 743.1 L607.0 742.8 L611.0 742.5 L615.0 742.1 L619.0 741.8 L623.0 741.5 L627.0 741.4 L631.0 741.5 L635.0 741.5 L639.0 741.6 L643.0 741.5 L647.0 741.2 L651.0 740.8 L655.0 740.1 L659.0 739.3 L663.0 738.5 L667.0 737.7 L671.0 737.0 L675.0 736.5 L679.0 736.1 L683.0 736.0 L687.0 735.9 L691.0 735.9 L695.0 735.8 L699.0 735.5 L703.0 735.2 L707.0 734.8 L711.0 734.3 L715.0 733.8 L719.0 733.5 L723.0 733.3 L727.0 733.4 L731.0 733.6 L735.0 733.9 L739.0 734.2 L743.0 734.5 L747.0 734.6 L751.0 734.5 L755.0 734.2 L759.0 733.7 L763.0 733.1 L767.0 732.6 L771.0 732.1 L775.0 731.7 L779.0 731.4" stroke="#444446" stroke-width="1.1" fill="none"/>
<path d="M455.0 753.2 L459.0 752.9 L463.0 752.5 L467.0 752.2 L471.0 752.1 L475.0 752.1 L479.0 752.2 L483.0 752.5 L487.0 752.7 L491.0 752.9 L495.0 752.9 L499.0 752.7 L503.0 752.3 L507.0 751.7 L511.0 751.0 L515.0 750.3 L519.0 749.7 L523.0 749.1 L527.0 748.8 L531.0 748.5 L535.0 748.3 L539.0 748.2 L543.0 747.9 L547.0 747.6 L551.0 747.1 L555.0 746.4 L559.0 745.7 L563.0 745.1 L567.0 744.5 L571.0 744.1 L575.0 743.9 L579.0 743.9 L583.0 744.1 L587.0 744.4 L591.0 744.7 L595.0 744.8 L599.0 744.9 L603.0 744.7 L607.0 744.4 L611.0 744.1 L615.0 743.7 L619.0 743.4 L623.0 743.1 L627.0 743.0 L631.0 743.1 L635.0 743.1 L639.0 743.2 L643.0 743.1 L647.0 742.8 L651.0 742.4 L655.0 741.7 L659.0 740.9 L663.0 740.1 L667.0 739.3 L671.0 738.6 L675.0 738.1 L679.0 737.7 L683.0 737.6 L687.0 737.5 L691.0 737.5 L695.0 737.4 L699.0 737.1 L703.0 736.8 L707.0 736.4 L711.0 735.9 L715.0 735.4 L719.0 735.1 L723.0 734.9 L727.0 735.0 L731.0 735.2 L735.0 735.5 L739.0 735.8 L743.0 736.1 L747.0 736.2 L751.0 736.1 L755.0 735.8 L759.0 735.3 L763.0 734.7 L767.0 734.2 L771.0 733.7 L775.0 733.3 L779.0 733.0" stroke="#1a1a1b" stroke-width="1.1" fill="none"/></g>
  </g>
  <!-- logo plate -->
  <polygon points="304,686.8 449,686.8 464,703.5 298,703.5" fill="#2c2c2e"/>
  <!-- diagonal groove -->
  <polygon points="465,664 472,664 555,728.5 548,728.5" fill="#313133"/>
  <line x1="465.5" y1="664.5" x2="548.5" y2="728.5" stroke="#19191a" stroke-width="1.3"/>
  <line x1="470.5" y1="664.5" x2="553.5" y2="728.5" stroke="#1c1c1d" stroke-width="1.1"/>
  <line x1="468" y1="664.5" x2="551" y2="728.5" stroke="#454547" stroke-width="0.9"/>
  <!-- left bevel -->
  <polygon points="311,663.5 316,663.5 291,728.5 286,728.5" fill="#242426"/>
  <!-- right bevel -->
  <polygon points="736,663.5 741.5,663.5 769.5,729.5 764,729.5" fill="#39393b"/>
  <line x1="741.3" y1="663.5" x2="769.3" y2="729.5" stroke="#242426" stroke-width="1"/>
  <!-- logo -->
  <text x="0" y="0" transform="translate(432,692.2) rotate(180) skewX(-10)" font-family="Liberation Sans" font-weight="bold" font-size="9" fill="#e2e2e2" textLength="100" lengthAdjust="spacingAndGlyphs">WAVLINK</text>
  <!-- front face -->
  <path d="M286,728.5 L769.5,729.5 L773.8,781 Q774,786 769,786 L287,786 Q282,786 282,781 Z" fill="url(#faceGrad)"/>
  <line x1="287" y1="730.3" x2="769" y2="731" stroke="#707070" stroke-width="1.4"/>
  <!-- recess -->
  <path d="M311.5,741 L311.5,773 Q311.5,777 316,777" fill="none" stroke="#1e1e1f" stroke-width="1.5"/>
  <rect x="314" y="777" width="440" height="3" fill="#0b0b0c"/>
  <rect x="314" y="780" width="440" height="5.5" fill="#1f1f21"/>
  <!-- front upper gradient -->

  <!-- power switch -->
  <rect x="314" y="743.5" width="24" height="32.5" fill="#0f0f10"/>
  <rect x="316" y="746" width="20" height="5" fill="#1c1c1d"/>
  <line x1="319" y1="752.5" x2="334" y2="752.5" stroke="#8a8a8a" stroke-width="0.9"/>
  <line x1="326" y1="757" x2="326" y2="767" stroke="#5a5a5a" stroke-width="1"/>
  <line x1="323" y1="758" x2="328" y2="758" stroke="#6a6a6a" stroke-width="1"/>
  <!-- DC jack -->
  <circle cx="358" cy="760" r="7.3" fill="#0c0c0c"/>
  <circle cx="358" cy="760" r="6" fill="#161616"/>
  <circle cx="358" cy="759" r="1.6" fill="#cfcfcf"/>
  <text x="358" y="776.5" font-family="Liberation Sans" font-size="5" font-weight="bold" fill="#d8d8d8" text-anchor="middle" textLength="15" lengthAdjust="spacingAndGlyphs">PWR</text>
  <!-- dot -->
  <circle cx="388" cy="758" r="0.9" fill="#0a0a0a"/>
  <!-- USB-C -->
  <rect x="376" y="765.5" width="22.5" height="7" rx="3.5" fill="#0a0a0a"/>
  <line x1="379" y1="767.5" x2="395" y2="767.5" stroke="#8a8a8a" stroke-width="0.9"/>
  <text x="388" y="777.3" font-family="Liberation Sans" font-size="4.2" font-weight="bold" fill="#d0d0d0" text-anchor="middle" textLength="24" lengthAdjust="spacingAndGlyphs">CHARGING</text>
  <path d="M399.5,766 L401,770 L402.5,766" stroke="#d0d0d0" stroke-width="0.9" fill="none"/>
  <text x="407" y="777.3" font-family="Liberation Sans" font-size="4.2" font-weight="bold" fill="#cfcfcf" text-anchor="middle" textLength="8" lengthAdjust="spacingAndGlyphs">USB</text>
  <!-- USB-A -->
  <rect x="412" y="740" width="28" height="28.7" rx="1" fill="#070708"/>
  <rect x="413.4" y="741.7" width="26.1" height="4.5" fill="#2f8fd2"/>
  <rect x="413.4" y="750.7" width="26.1" height="2.2" fill="#c4c4c4"/>
  <rect x="413.4" y="754.6" width="26.1" height="1.6" fill="#9aa4ae"/>
  <rect x="413.4" y="757.3" width="26.1" height="4.4" fill="#2f8fd2"/>
  <rect x="414.5" y="766" width="24" height="2.2" fill="#b8b8b8"/>
  <text x="424.5" y="777" font-family="Liberation Sans" font-size="4.2" font-weight="bold" fill="#c8c8c8" text-anchor="middle" textLength="21" lengthAdjust="spacingAndGlyphs">5Gbps</text>
  <!-- HDMI box 1 -->
  <rect x="452.5" y="755.5" width="39" height="20" fill="none" stroke="#7c7c7e" stroke-width="0.9"/>
  <rect x="463" y="752.5" width="15" height="5" fill="#404042"/>
  <text x="470.8" y="757.6" font-family="Liberation Sans" font-size="4.3" font-weight="bold" fill="#e0e0e0" text-anchor="middle" textLength="13" lengthAdjust="spacingAndGlyphs">HDMI</text>
  <rect x="458" y="773" width="26" height="5" fill="#303032"/>
  <text x="471" y="776.8" font-family="Liberation Sans" font-size="4.2" font-weight="bold" fill="#d8d8d8" text-anchor="middle" textLength="23" lengthAdjust="spacingAndGlyphs">4K/30Hz</text>
  <path d="M457,761 L487,761 L487,766 L484,768.7 L460,768.7 L457,766 Z" fill="#0a0a0a" stroke="#9a9a9a" stroke-width="0.8"/>
  <!-- box 2 -->
  <rect x="499.5" y="755" width="95" height="21" fill="none" stroke="#7c7c7e" stroke-width="0.9"/>
  <path d="M502.5,759 L536,759 L536,766 L533,769 L505.5,769 L502.5,766 Z" fill="#0c0c0c" stroke="#8a8a7a" stroke-width="0.8"/>
  <line x1="506" y1="762" x2="532" y2="762" stroke="#8e8e70" stroke-width="0.9" stroke-dasharray="2 1.5"/>
  <line x1="506" y1="766" x2="532" y2="766" stroke="#8e8e70" stroke-width="0.9" stroke-dasharray="2 1.5"/>
  <rect x="511" y="752.5" width="16" height="5" fill="#404042"/>
  <text x="519" y="757.5" font-family="Liberation Sans" font-size="4.3" font-weight="bold" fill="#dcdcdc" text-anchor="middle" textLength="14" lengthAdjust="spacingAndGlyphs">HDMI</text>
  <path d="M555.6,758 L592,758 L592,769 L559,769 L555.6,765.5 Z" fill="#0a0a0a" stroke="#9a9a9a" stroke-width="0.8"/>
  <rect x="562" y="761.5" width="23" height="4" fill="#1b1b1b"/>
  <rect x="560" y="752.5" width="28" height="5" fill="#404042"/>
  <text x="574" y="757.3" font-family="Liberation Sans" font-size="4.2" font-weight="bold" fill="#d8d8d8" text-anchor="middle" textLength="26" lengthAdjust="spacingAndGlyphs">DisplayPort</text>
  <rect x="537" y="773.5" width="20" height="5" fill="#303032"/>
  <text x="547" y="777.3" font-family="Liberation Sans" font-size="4.2" font-weight="bold" fill="#d0d0d0" text-anchor="middle" textLength="16" lengthAdjust="spacingAndGlyphs">Video1</text>
  <!-- box 3 -->
  <rect x="602.5" y="755" width="92" height="21" fill="none" stroke="#7c7c7e" stroke-width="0.9"/>
  <path d="M605,759 L640,759 L640,766 L637,769 L608,769 L605,766 Z" fill="#0c0c0c" stroke="#8a8a7a" stroke-width="0.8"/>
  <line x1="609" y1="762" x2="636" y2="762" stroke="#8e8e70" stroke-width="0.9" stroke-dasharray="2 1.5"/>
  <line x1="609" y1="766" x2="636" y2="766" stroke="#8e8e70" stroke-width="0.9" stroke-dasharray="2 1.5"/>
  <rect x="614" y="752.5" width="16" height="5" fill="#404042"/>
  <text x="622" y="757.5" font-family="Liberation Sans" font-size="4.3" font-weight="bold" fill="#dcdcdc" text-anchor="middle" textLength="14" lengthAdjust="spacingAndGlyphs">HDMI</text>
  <path d="M657,758 L694,758 L694,769 L660.5,769 L657,765.5 Z" fill="#0a0a0a" stroke="#9a9a9a" stroke-width="0.8"/>
  <rect x="664" y="761.5" width="23" height="4" fill="#1b1b1b"/>
  <rect x="661" y="752.5" width="28" height="5" fill="#404042"/>
  <text x="675" y="757.3" font-family="Liberation Sans" font-size="4.2" font-weight="bold" fill="#d8d8d8" text-anchor="middle" textLength="26" lengthAdjust="spacingAndGlyphs">DisplayPort</text>
  <rect x="637" y="773.5" width="21" height="5" fill="#303032"/>
  <text x="647.5" y="777.3" font-family="Liberation Sans" font-size="4.2" font-weight="bold" fill="#d0d0d0" text-anchor="middle" textLength="17" lengthAdjust="spacingAndGlyphs">Video 2</text>
  <!-- ethernet -->
  <rect x="711.5" y="745" width="38" height="32.5" rx="1.5" fill="#1c1c1d"/>
  <rect x="714.4" y="747.4" width="31.6" height="24.2" fill="#050505"/>
  <polygon points="715,768 717.5,763 720,768" fill="#3ddc84" filter="url(#glow)"/>
  <polygon points="715.5,767.5 717.5,764 719.5,767.5" fill="#7ff0b0"/>
  <ellipse cx="740" cy="766.5" rx="3" ry="1.8" fill="#ffb060" filter="url(#glow)"/>
  <ellipse cx="740" cy="766.5" rx="1.5" ry="1" fill="#fff0d0"/>
  <text x="726" y="777" font-family="Liberation Sans" font-size="4.3" font-weight="bold" fill="#d8d8d8" text-anchor="middle" textLength="9" lengthAdjust="spacingAndGlyphs">Lan</text>

</g>
</svg>
</body></html>
